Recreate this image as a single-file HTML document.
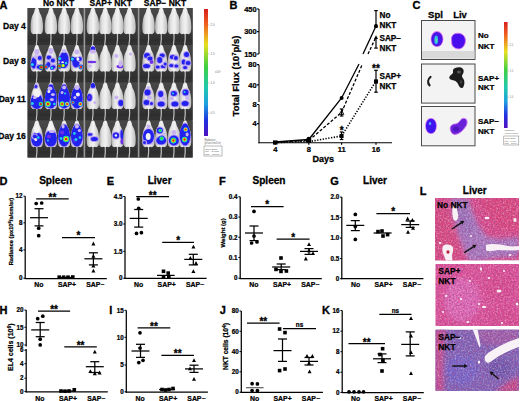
<!DOCTYPE html>
<html><head><meta charset="utf-8"><style>
html,body{margin:0;padding:0;background:#fff;overflow:hidden;width:520px;height:401px;}
svg{display:block;font-family:"Liberation Sans", sans-serif;}
</style></head><body>
<svg width="520" height="401" viewBox="0 0 520 401">
<rect width="520" height="401" fill="#fff"/>
<text x="-0.40" y="8.50" font-size="11" text-anchor="start" font-weight="bold" fill="#000" stroke="#000" stroke-width="0.32" >A</text>
<text x="229.40" y="9.00" font-size="11" text-anchor="start" font-weight="bold" fill="#000" stroke="#000" stroke-width="0.32" >B</text>
<text x="412.40" y="9.00" font-size="11" text-anchor="start" font-weight="bold" fill="#000" stroke="#000" stroke-width="0.32" >C</text>
<text x="-0.60" y="185.00" font-size="11" text-anchor="start" font-weight="bold" fill="#000" stroke="#000" stroke-width="0.32" >D</text>
<text x="106.70" y="185.00" font-size="11" text-anchor="start" font-weight="bold" fill="#000" stroke="#000" stroke-width="0.32" >E</text>
<text x="219.00" y="185.00" font-size="11" text-anchor="start" font-weight="bold" fill="#000" stroke="#000" stroke-width="0.32" >F</text>
<text x="330.20" y="185.00" font-size="11" text-anchor="start" font-weight="bold" fill="#000" stroke="#000" stroke-width="0.32" >G</text>
<text x="419.80" y="195.30" font-size="11" text-anchor="start" font-weight="bold" fill="#000" stroke="#000" stroke-width="0.32" >L</text>
<text x="-0.60" y="314.30" font-size="11" text-anchor="start" font-weight="bold" fill="#000" stroke="#000" stroke-width="0.32" >H</text>
<text x="109.30" y="314.30" font-size="11" text-anchor="start" font-weight="bold" fill="#000" stroke="#000" stroke-width="0.32" >I</text>
<text x="219.70" y="314.30" font-size="11" text-anchor="start" font-weight="bold" fill="#000" stroke="#000" stroke-width="0.32" >J</text>
<text x="322.00" y="314.30" font-size="11" text-anchor="start" font-weight="bold" fill="#000" stroke="#000" stroke-width="0.32" >K</text>
<defs><filter id="bl" x="-20%" y="-20%" width="140%" height="140%"><feGaussianBlur stdDeviation="0.5"/></filter><filter id="bl2" x="-20%" y="-20%" width="140%" height="140%"><feGaussianBlur stdDeviation="0.45"/></filter><filter id="soft" x="0" y="0" width="100%" height="100%"><feGaussianBlur stdDeviation="0.35"/></filter></defs>
<g id="panelA" filter="url(#soft)">
<defs><linearGradient id="rowbg" x1="0" y1="0" x2="0" y2="1"><stop offset="0" stop-color="#474747"/><stop offset="0.6" stop-color="#3c3c3c"/><stop offset="0.85" stop-color="#2e2e2e"/><stop offset="1" stop-color="#333"/></linearGradient></defs>
<rect x="27.6" y="8" width="165" height="149.5" fill="#3a3a3a"/>
<rect x="27.6" y="8" width="165" height="37.5" fill="url(#rowbg)"/>
<rect x="27.6" y="45" width="165" height="37.5" fill="url(#rowbg)"/>
<rect x="27.6" y="82.5" width="165" height="37.5" fill="url(#rowbg)"/>
<rect x="27.6" y="120.5" width="165" height="37.0" fill="url(#rowbg)"/>
<defs><path id="mp" d="M0.00,0.00 C0.43,0.00 0.93,-0.02 1.30,0.40 C1.67,0.82 1.95,1.73 2.20,2.50 C2.45,3.27 2.53,4.25 2.80,5.00 C3.07,5.75 3.47,6.30 3.80,7.00 C4.13,7.70 4.52,8.37 4.80,9.20 C5.08,10.03 5.30,10.95 5.50,12.00 C5.70,13.05 5.88,14.25 6.00,15.50 C6.12,16.75 6.20,18.25 6.20,19.50 C6.20,20.75 6.13,22.03 6.00,23.00 C5.87,23.97 5.77,24.70 5.40,25.30 C5.03,25.90 4.45,26.43 3.80,26.60 C3.15,26.77 2.13,26.27 1.50,26.30 C0.87,26.33 0.50,26.80 0.00,26.80 C-0.50,26.80 -0.87,26.33 -1.50,26.30 C-2.13,26.27 -3.15,26.77 -3.80,26.60 C-4.45,26.43 -5.03,25.90 -5.40,25.30 C-5.77,24.70 -5.87,23.97 -6.00,23.00 C-6.13,22.03 -6.20,20.75 -6.20,19.50 C-6.20,18.25 -6.12,16.75 -6.00,15.50 C-5.88,14.25 -5.70,13.05 -5.50,12.00 C-5.30,10.95 -5.08,10.03 -4.80,9.20 C-4.52,8.37 -4.13,7.70 -3.80,7.00 C-3.47,6.30 -3.07,5.75 -2.80,5.00 C-2.53,4.25 -2.45,3.27 -2.20,2.50 C-1.95,1.73 -1.67,0.82 -1.30,0.40 C-0.93,-0.02 -0.43,0.00 0.00,0.00 Z"/><clipPath id="mc"><use href="#mp"/></clipPath><linearGradient id="msh" x1="0" y1="0" x2="1" y2="0"><stop offset="0" stop-color="#a8a8a8"/><stop offset="0.25" stop-color="#e2e2e2"/><stop offset="0.55" stop-color="#f2f2f2"/><stop offset="1" stop-color="#bcbcbc"/></linearGradient></defs>
<g transform="translate(36.8,7.5)">
<path d="M0,25 Q0.5,31 -0.5,37.5" stroke="#c0c0c0" stroke-width="1.2" fill="none"/>
<use href="#mp" fill="url(#msh)"/>
</g>
<g transform="translate(50.9,7.5)">
<path d="M0,25 Q0.5,31 -0.5,37.5" stroke="#c0c0c0" stroke-width="1.2" fill="none"/>
<use href="#mp" fill="url(#msh)"/>
</g>
<g transform="translate(64.1,7.5)">
<path d="M0,25 Q0.5,31 -0.5,37.5" stroke="#c0c0c0" stroke-width="1.2" fill="none"/>
<use href="#mp" fill="url(#msh)"/>
</g>
<g transform="translate(76.9,7.5)">
<path d="M0,25 Q0.5,31 -0.5,37.5" stroke="#c0c0c0" stroke-width="1.2" fill="none"/>
<use href="#mp" fill="url(#msh)"/>
</g>
<g transform="translate(36.8,45)">
<path d="M0,25 Q0.5,31 -0.5,37.5" stroke="#c0c0c0" stroke-width="1.2" fill="none"/>
<use href="#mp" fill="url(#msh)"/>
<g clip-path="url(#mc)"><g filter="url(#bl)">
<ellipse cx="-3" cy="18" rx="3.6" ry="6.6" fill="#b8a0f0"/>
<ellipse cx="-3" cy="18" rx="2.5" ry="5.5" fill="#2420ee"/>
<ellipse cx="3" cy="13" rx="3.1" ry="3.1" fill="#b8a0f0"/>
<ellipse cx="3" cy="13" rx="2" ry="2" fill="#2420ee"/>
<ellipse cx="2" cy="22" rx="3.3000000000000003" ry="2.9000000000000004" fill="#b8a0f0"/>
<ellipse cx="2" cy="22" rx="2.2" ry="1.8" fill="#2420ee"/>
<ellipse cx="0" cy="7" rx="2.5" ry="3" fill="#c8b4f0"/>
<ellipse cx="-1" cy="12" rx="2" ry="2" fill="#c8b4f0"/>
<ellipse cx="-4.5" cy="19.5" rx="2.43" ry="2.43" fill="#2420ee"/>
<ellipse cx="-4.5" cy="19.5" rx="1.5485911621929036" ry="1.5485911621929036" fill="#20d0e8"/>
<ellipse cx="4.6" cy="22.3" rx="2.7" ry="2.7" fill="#2420ee"/>
<ellipse cx="4.6" cy="22.3" rx="2.0744570415933907" ry="2.0744570415933907" fill="#30e040"/>
<ellipse cx="4.6" cy="22.3" rx="1.3220106341400664" ry="1.3220106341400664" fill="#e82020"/>
</g></g>
</g>
<g transform="translate(50.9,45)">
<path d="M0,25 Q0.5,31 -0.5,37.5" stroke="#c0c0c0" stroke-width="1.2" fill="none"/>
<use href="#mp" fill="url(#msh)"/>
<g clip-path="url(#mc)"><g filter="url(#bl)">
<ellipse cx="-2" cy="12.5" rx="3.3000000000000003" ry="3.1" fill="#b8a0f0"/>
<ellipse cx="-2" cy="12.5" rx="2.2" ry="2" fill="#2420ee"/>
<ellipse cx="2" cy="15.5" rx="3.1" ry="3.1" fill="#b8a0f0"/>
<ellipse cx="2" cy="15.5" rx="2" ry="2" fill="#2420ee"/>
<ellipse cx="-2.5" cy="19.5" rx="3.1" ry="3.6" fill="#b8a0f0"/>
<ellipse cx="-2.5" cy="19.5" rx="2" ry="2.5" fill="#2420ee"/>
<ellipse cx="2.5" cy="22" rx="3.3000000000000003" ry="2.9000000000000004" fill="#b8a0f0"/>
<ellipse cx="2.5" cy="22" rx="2.2" ry="1.8" fill="#2420ee"/>
<ellipse cx="0" cy="6" rx="2.5" ry="3" fill="#c8b4f0"/>
<ellipse cx="-4.8" cy="22" rx="2.43" ry="2.43" fill="#2420ee"/>
<ellipse cx="-4.8" cy="22" rx="1.8670113374340518" ry="1.8670113374340518" fill="#20d0e8"/>
<ellipse cx="-4.8" cy="22" rx="1.1898095707260599" ry="1.1898095707260599" fill="#e82020"/>
<ellipse cx="1" cy="23" rx="2.0250000000000004" ry="2.0250000000000004" fill="#2420ee"/>
<ellipse cx="1" cy="23" rx="1.2904926351607533" ry="1.2904926351607533" fill="#20d0e8"/>
</g></g>
</g>
<g transform="translate(64.1,45)">
<path d="M0,25 Q0.5,31 -0.5,37.5" stroke="#c0c0c0" stroke-width="1.2" fill="none"/>
<use href="#mp" fill="url(#msh)"/>
<g clip-path="url(#mc)"><g filter="url(#bl)">
<ellipse cx="0" cy="15" rx="5.6" ry="9.1" fill="#b8a0f0"/>
<ellipse cx="0" cy="15" rx="4.5" ry="8" fill="#2420ee"/>
<ellipse cx="0" cy="6" rx="2" ry="2" fill="#c8b4f0"/>
<ellipse cx="-1.5" cy="17.5" rx="1.3" ry="1.3" fill="#f2f2f2"/>
<ellipse cx="-4.4" cy="13.6" rx="2.43" ry="2.43" fill="#2420ee"/>
<ellipse cx="-4.4" cy="13.6" rx="1.5485911621929036" ry="1.5485911621929036" fill="#20d0e8"/>
<ellipse cx="-4.5" cy="21" rx="2.7" ry="2.7" fill="#2420ee"/>
<ellipse cx="-4.5" cy="21" rx="2.0744570415933907" ry="2.0744570415933907" fill="#30e040"/>
<ellipse cx="-4.5" cy="21" rx="1.3220106341400664" ry="1.3220106341400664" fill="#e82020"/>
<ellipse cx="-1" cy="20.5" rx="2.43" ry="2.43" fill="#2420ee"/>
<ellipse cx="-1" cy="20.5" rx="1.8670113374340518" ry="1.8670113374340518" fill="#30e040"/>
<ellipse cx="-1" cy="20.5" rx="1.1898095707260599" ry="1.1898095707260599" fill="#f0f020"/>
<ellipse cx="2" cy="18" rx="2.0250000000000004" ry="2.0250000000000004" fill="#2420ee"/>
<ellipse cx="2" cy="18" rx="1.2904926351607533" ry="1.2904926351607533" fill="#20d0e8"/>
</g></g>
</g>
<g transform="translate(76.9,45)">
<path d="M0,25 Q0.5,31 -0.5,37.5" stroke="#c0c0c0" stroke-width="1.2" fill="none"/>
<use href="#mp" fill="url(#msh)"/>
<g clip-path="url(#mc)"><g filter="url(#bl)">
<ellipse cx="-1" cy="17.5" rx="4.6" ry="6.1" fill="#b8a0f0"/>
<ellipse cx="-1" cy="17.5" rx="3.5" ry="5" fill="#2420ee"/>
<ellipse cx="3" cy="14" rx="3.1" ry="3.1" fill="#b8a0f0"/>
<ellipse cx="3" cy="14" rx="2" ry="2" fill="#2420ee"/>
<ellipse cx="0" cy="7" rx="2.5" ry="2.5" fill="#c8b4f0"/>
<ellipse cx="1" cy="14" rx="1.5" ry="1.5" fill="#f2f2f2"/>
<ellipse cx="-4.5" cy="14" rx="2.43" ry="2.43" fill="#2420ee"/>
<ellipse cx="-4.5" cy="14" rx="1.5485911621929036" ry="1.5485911621929036" fill="#20d0e8"/>
<ellipse cx="4" cy="22" rx="2.43" ry="2.43" fill="#2420ee"/>
<ellipse cx="4" cy="22" rx="1.8670113374340518" ry="1.8670113374340518" fill="#20d0e8"/>
<ellipse cx="4" cy="22" rx="1.1898095707260599" ry="1.1898095707260599" fill="#e82020"/>
</g></g>
</g>
<g transform="translate(36.8,82.5)">
<path d="M0,25 Q0.5,31 -0.5,37.5" stroke="#c0c0c0" stroke-width="1.2" fill="none"/>
<use href="#mp" fill="url(#msh)"/>
<g clip-path="url(#mc)"><g filter="url(#bl)">
<ellipse cx="0" cy="19" rx="7.1" ry="8.6" fill="#b8a0f0"/>
<ellipse cx="0" cy="19" rx="6" ry="7.5" fill="#2420ee"/>
<ellipse cx="0" cy="3" rx="2" ry="2.5" fill="#c8b4f0"/>
<ellipse cx="-1" cy="4" rx="2.6" ry="2.6" fill="#b8a0f0"/>
<ellipse cx="-1" cy="4" rx="1.5" ry="1.5" fill="#2420ee"/>
<ellipse cx="0" cy="11" rx="3.5" ry="4" fill="#f2f2f2"/>
<ellipse cx="-2" cy="15" rx="2" ry="1.5" fill="#c8b4f0"/>
<ellipse cx="-4.5" cy="21" rx="2.43" ry="2.43" fill="#2420ee"/>
<ellipse cx="-4.5" cy="21" rx="1.5485911621929036" ry="1.5485911621929036" fill="#20d0e8"/>
<ellipse cx="4" cy="21.5" rx="2.7" ry="2.7" fill="#2420ee"/>
<ellipse cx="4" cy="21.5" rx="2.239512987461187" ry="2.239512987461187" fill="#20d0e8"/>
<ellipse cx="4" cy="21.5" rx="1.7206568468810042" ry="1.7206568468810042" fill="#30e040"/>
<ellipse cx="4" cy="21.5" rx="1.096540735080918" ry="1.096540735080918" fill="#e82020"/>
</g></g>
</g>
<g transform="translate(50.9,82.5)">
<path d="M0,25 Q0.5,31 -0.5,37.5" stroke="#c0c0c0" stroke-width="1.2" fill="none"/>
<use href="#mp" fill="url(#msh)"/>
<g clip-path="url(#mc)"><g filter="url(#bl)">
<ellipse cx="0" cy="14" rx="7.1" ry="13.1" fill="#b8a0f0"/>
<ellipse cx="0" cy="14" rx="6" ry="12" fill="#2420ee"/>
<ellipse cx="-1" cy="6" rx="2.5" ry="2" fill="#c8b4f0"/>
<ellipse cx="2" cy="12" rx="2" ry="1.5" fill="#c8b4f0"/>
<ellipse cx="-2" cy="9" rx="1.5" ry="1.5" fill="#f2f2f2"/>
<ellipse cx="1" cy="17" rx="2" ry="1.5" fill="#c8b4f0"/>
<ellipse cx="-3" cy="21.5" rx="3.375" ry="3.375" fill="#2420ee"/>
<ellipse cx="-3" cy="21.5" rx="2.9193238054014556" ry="2.9193238054014556" fill="#20d0e8"/>
<ellipse cx="-3" cy="21.5" rx="2.4214309543708055" ry="2.4214309543708055" fill="#30e040"/>
<ellipse cx="-3" cy="21.5" rx="1.8604275903802676" ry="1.8604275903802676" fill="#f0f020"/>
<ellipse cx="-3" cy="21.5" rx="1.1856138783385683" ry="1.1856138783385683" fill="#e82020"/>
<ellipse cx="3.5" cy="21.5" rx="2.0250000000000004" ry="2.0250000000000004" fill="#2420ee"/>
<ellipse cx="3.5" cy="21.5" rx="1.2904926351607533" ry="1.2904926351607533" fill="#20d0e8"/>
</g></g>
</g>
<g transform="translate(64.1,82.5)">
<path d="M0,25 Q0.5,31 -0.5,37.5" stroke="#c0c0c0" stroke-width="1.2" fill="none"/>
<use href="#mp" fill="url(#msh)"/>
<g clip-path="url(#mc)"><g filter="url(#bl)">
<ellipse cx="0" cy="14" rx="7.1" ry="13.1" fill="#b8a0f0"/>
<ellipse cx="0" cy="14" rx="6" ry="12" fill="#2420ee"/>
<ellipse cx="0" cy="5" rx="2" ry="2" fill="#c8b4f0"/>
<ellipse cx="-2" cy="10" rx="1.5" ry="1.5" fill="#c8b4f0"/>
<ellipse cx="-2" cy="21.5" rx="3.105" ry="3.105" fill="#2420ee"/>
<ellipse cx="-2" cy="21.5" rx="2.6857779009693394" ry="2.6857779009693394" fill="#20d0e8"/>
<ellipse cx="-2" cy="21.5" rx="2.227716478021141" ry="2.227716478021141" fill="#30e040"/>
<ellipse cx="-2" cy="21.5" rx="1.7115933831498462" ry="1.7115933831498462" fill="#f0f020"/>
<ellipse cx="-2" cy="21.5" rx="1.090764768071483" ry="1.090764768071483" fill="#e82020"/>
<ellipse cx="3" cy="21.5" rx="2.7" ry="2.7" fill="#2420ee"/>
<ellipse cx="3" cy="21.5" rx="2.239512987461187" ry="2.239512987461187" fill="#20d0e8"/>
<ellipse cx="3" cy="21.5" rx="1.7206568468810042" ry="1.7206568468810042" fill="#f0f020"/>
<ellipse cx="3" cy="21.5" rx="1.096540735080918" ry="1.096540735080918" fill="#e82020"/>
<ellipse cx="1" cy="11" rx="1.7550000000000001" ry="1.7550000000000001" fill="#2420ee"/>
<ellipse cx="1" cy="11" rx="1.1184269504726527" ry="1.1184269504726527" fill="#20d0e8"/>
</g></g>
</g>
<g transform="translate(76.9,82.5)">
<path d="M0,25 Q0.5,31 -0.5,37.5" stroke="#c0c0c0" stroke-width="1.2" fill="none"/>
<use href="#mp" fill="url(#msh)"/>
<g clip-path="url(#mc)"><g filter="url(#bl)">
<ellipse cx="0" cy="15" rx="7.1" ry="12.1" fill="#b8a0f0"/>
<ellipse cx="0" cy="15" rx="6" ry="11" fill="#2420ee"/>
<ellipse cx="0" cy="5" rx="2.5" ry="2.5" fill="#c8b4f0"/>
<ellipse cx="1" cy="12" rx="2" ry="2" fill="#f2f2f2"/>
<ellipse cx="-2" cy="15" rx="1.5" ry="1.5" fill="#c8b4f0"/>
<ellipse cx="-4" cy="20" rx="2.16" ry="2.16" fill="#2420ee"/>
<ellipse cx="-4" cy="20" rx="1.6595656332747126" ry="1.6595656332747126" fill="#20d0e8"/>
<ellipse cx="-4" cy="20" rx="1.0576085073120531" ry="1.0576085073120531" fill="#e82020"/>
<ellipse cx="3.5" cy="21.5" rx="2.7" ry="2.7" fill="#2420ee"/>
<ellipse cx="3.5" cy="21.5" rx="2.239512987461187" ry="2.239512987461187" fill="#20d0e8"/>
<ellipse cx="3.5" cy="21.5" rx="1.7206568468810042" ry="1.7206568468810042" fill="#f0f020"/>
<ellipse cx="3.5" cy="21.5" rx="1.096540735080918" ry="1.096540735080918" fill="#e82020"/>
</g></g>
</g>
<g transform="translate(36.8,120.5)">
<path d="M0,25 Q0.5,31 -0.5,37.5" stroke="#c0c0c0" stroke-width="1.2" fill="none"/>
<use href="#mp" fill="url(#msh)"/>
<g clip-path="url(#mc)"><g filter="url(#bl)">
<ellipse cx="0" cy="19" rx="6.6" ry="8.1" fill="#b8a0f0"/>
<ellipse cx="0" cy="19" rx="5.5" ry="7" fill="#2420ee"/>
<ellipse cx="0" cy="8" rx="3" ry="5" fill="#f2f2f2"/>
<ellipse cx="-2" cy="16" rx="3.1" ry="3.1" fill="#b8a0f0"/>
<ellipse cx="-2" cy="16" rx="2" ry="2" fill="#2420ee"/>
<ellipse cx="-1" cy="19" rx="1.5" ry="1.5" fill="#f2f2f2"/>
<ellipse cx="1.5" cy="17" rx="2.0250000000000004" ry="2.0250000000000004" fill="#2420ee"/>
<ellipse cx="1.5" cy="17" rx="1.2904926351607533" ry="1.2904926351607533" fill="#20d0e8"/>
</g></g>
</g>
<g transform="translate(50.9,120.5)">
<path d="M0,25 Q0.5,31 -0.5,37.5" stroke="#c0c0c0" stroke-width="1.2" fill="none"/>
<use href="#mp" fill="url(#msh)"/>
<g clip-path="url(#mc)"><g filter="url(#bl)">
<ellipse cx="0" cy="18" rx="7.1" ry="9.1" fill="#b8a0f0"/>
<ellipse cx="0" cy="18" rx="6" ry="8" fill="#2420ee"/>
<ellipse cx="0" cy="7" rx="3" ry="4.5" fill="#f2f2f2"/>
<ellipse cx="1" cy="11" rx="3" ry="1.5" fill="#c8b4f0"/>
<ellipse cx="-2" cy="16" rx="2" ry="2" fill="#7030e8"/>
<ellipse cx="-3" cy="20" rx="1.62" ry="1.62" fill="#2420ee"/>
<ellipse cx="-3" cy="20" rx="1.0323941081286026" ry="1.0323941081286026" fill="#20d0e8"/>
</g></g>
</g>
<g transform="translate(64.1,120.5)">
<path d="M0,25 Q0.5,31 -0.5,37.5" stroke="#c0c0c0" stroke-width="1.2" fill="none"/>
<use href="#mp" fill="url(#msh)"/>
<g clip-path="url(#mc)"><g filter="url(#bl)">
<ellipse cx="0" cy="15" rx="7.1" ry="12.1" fill="#b8a0f0"/>
<ellipse cx="0" cy="15" rx="6" ry="11" fill="#2420ee"/>
<ellipse cx="-1" cy="6" rx="1.5" ry="2" fill="#c8b4f0"/>
<ellipse cx="-2" cy="12" rx="2" ry="2" fill="#7030e8"/>
<ellipse cx="-3" cy="18" rx="2.16" ry="2.16" fill="#2420ee"/>
<ellipse cx="-3" cy="18" rx="1.3765254775048033" ry="1.3765254775048033" fill="#20d0e8"/>
<ellipse cx="2" cy="18.5" rx="3.78" ry="3.78" fill="#2420ee"/>
<ellipse cx="2" cy="18.5" rx="3.2696426620496304" ry="3.2696426620496304" fill="#20d0e8"/>
<ellipse cx="2" cy="18.5" rx="2.712002668895302" ry="2.712002668895302" fill="#30e040"/>
<ellipse cx="2" cy="18.5" rx="2.0836789012258996" ry="2.0836789012258996" fill="#f0f020"/>
<ellipse cx="2" cy="18.5" rx="1.3278875437391966" ry="1.3278875437391966" fill="#e82020"/>
</g></g>
</g>
<g transform="translate(76.9,120.5)">
<path d="M0,25 Q0.5,31 -0.5,37.5" stroke="#c0c0c0" stroke-width="1.2" fill="none"/>
<use href="#mp" fill="url(#msh)"/>
<g clip-path="url(#mc)"><g filter="url(#bl)">
<ellipse cx="0" cy="15" rx="7.1" ry="12.1" fill="#b8a0f0"/>
<ellipse cx="0" cy="15" rx="6" ry="11" fill="#2420ee"/>
<ellipse cx="0" cy="6" rx="2" ry="2" fill="#c8b4f0"/>
<ellipse cx="2.5" cy="10" rx="1.5" ry="1.5" fill="#c8b4f0"/>
<ellipse cx="-2" cy="20" rx="2" ry="2" fill="#7030e8"/>
<ellipse cx="-2.5" cy="13" rx="2.16" ry="2.16" fill="#2420ee"/>
<ellipse cx="-2.5" cy="13" rx="1.3765254775048033" ry="1.3765254775048033" fill="#20d0e8"/>
<ellipse cx="-1" cy="19" rx="2.43" ry="2.43" fill="#2420ee"/>
<ellipse cx="-1" cy="19" rx="1.5485911621929036" ry="1.5485911621929036" fill="#20d0e8"/>
<ellipse cx="3" cy="17" rx="1.89" ry="1.89" fill="#2420ee"/>
<ellipse cx="3" cy="17" rx="1.2044597928167027" ry="1.2044597928167027" fill="#20d0e8"/>
</g></g>
</g>
<g transform="translate(92.9,7.5)">
<path d="M0,25 Q0.5,31 -0.5,37.5" stroke="#c0c0c0" stroke-width="1.2" fill="none"/>
<use href="#mp" fill="url(#msh)"/>
</g>
<g transform="translate(105.2,7.5)">
<path d="M0,25 Q0.5,31 -0.5,37.5" stroke="#c0c0c0" stroke-width="1.2" fill="none"/>
<use href="#mp" fill="url(#msh)"/>
</g>
<g transform="translate(117.4,7.5)">
<path d="M0,25 Q0.5,31 -0.5,37.5" stroke="#c0c0c0" stroke-width="1.2" fill="none"/>
<use href="#mp" fill="url(#msh)"/>
</g>
<g transform="translate(129.5,7.5)">
<path d="M0,25 Q0.5,31 -0.5,37.5" stroke="#c0c0c0" stroke-width="1.2" fill="none"/>
<use href="#mp" fill="url(#msh)"/>
</g>
<g transform="translate(92.9,45)">
<path d="M0,25 Q0.5,31 -0.5,37.5" stroke="#c0c0c0" stroke-width="1.2" fill="none"/>
<use href="#mp" fill="url(#msh)"/>
<g clip-path="url(#mc)"><g filter="url(#bl)">
<ellipse cx="0" cy="4" rx="3.6" ry="3.6" fill="#b8a0f0"/>
<ellipse cx="0" cy="4" rx="2.5" ry="2.5" fill="#2420ee"/>
<ellipse cx="0" cy="6.5" rx="3" ry="2" fill="#c8b4f0"/>
<ellipse cx="-1" cy="17" rx="4.5" ry="1.2" fill="#7030e8"/>
<ellipse cx="-3" cy="21" rx="2" ry="1.5" fill="#c8b4f0"/>
</g></g>
</g>
<g transform="translate(105.2,45)">
<path d="M0,25 Q0.5,31 -0.5,37.5" stroke="#c0c0c0" stroke-width="1.2" fill="none"/>
<use href="#mp" fill="url(#msh)"/>
</g>
<g transform="translate(117.4,45)">
<path d="M0,25 Q0.5,31 -0.5,37.5" stroke="#c0c0c0" stroke-width="1.2" fill="none"/>
<use href="#mp" fill="url(#msh)"/>
<g clip-path="url(#mc)"><g filter="url(#bl)">
<ellipse cx="2.5" cy="21.5" rx="3.5" ry="1.8" fill="#7030e8"/>
<ellipse cx="3" cy="19" rx="2" ry="3" fill="#c8b4f0"/>
<ellipse cx="-1" cy="11" rx="2" ry="2" fill="#c8b4f0"/>
</g></g>
</g>
<g transform="translate(129.5,45)">
<path d="M0,25 Q0.5,31 -0.5,37.5" stroke="#c0c0c0" stroke-width="1.2" fill="none"/>
<use href="#mp" fill="url(#msh)"/>
<g clip-path="url(#mc)"><g filter="url(#bl)">
<ellipse cx="1" cy="9" rx="1.5" ry="1.5" fill="#c8b4f0"/>
</g></g>
</g>
<g transform="translate(92.9,82.5)">
<path d="M0,25 Q0.5,31 -0.5,37.5" stroke="#c0c0c0" stroke-width="1.2" fill="none"/>
<use href="#mp" fill="url(#msh)"/>
<g clip-path="url(#mc)"><g filter="url(#bl)">
<ellipse cx="0" cy="3" rx="3.6" ry="3.6" fill="#b8a0f0"/>
<ellipse cx="0" cy="3" rx="2.5" ry="2.5" fill="#2420ee"/>
<ellipse cx="-3.5" cy="15" rx="3.6" ry="4.6" fill="#b8a0f0"/>
<ellipse cx="-3.5" cy="15" rx="2.5" ry="3.5" fill="#2420ee"/>
<ellipse cx="-3.5" cy="15" rx="1.2" ry="1.5" fill="#7030e8"/>
<ellipse cx="2" cy="20" rx="1.5" ry="1.5" fill="#c8b4f0"/>
</g></g>
</g>
<g transform="translate(105.2,82.5)">
<path d="M0,25 Q0.5,31 -0.5,37.5" stroke="#c0c0c0" stroke-width="1.2" fill="none"/>
<use href="#mp" fill="url(#msh)"/>
</g>
<g transform="translate(117.4,82.5)">
<path d="M0,25 Q0.5,31 -0.5,37.5" stroke="#c0c0c0" stroke-width="1.2" fill="none"/>
<use href="#mp" fill="url(#msh)"/>
<g clip-path="url(#mc)"><g filter="url(#bl)">
<ellipse cx="3.5" cy="20.5" rx="3.6" ry="4.1" fill="#b8a0f0"/>
<ellipse cx="3.5" cy="20.5" rx="2.5" ry="3" fill="#2420ee"/>
<ellipse cx="-1" cy="15" rx="2" ry="2" fill="#c8b4f0"/>
</g></g>
</g>
<g transform="translate(129.5,82.5)">
<path d="M0,25 Q0.5,31 -0.5,37.5" stroke="#c0c0c0" stroke-width="1.2" fill="none"/>
<use href="#mp" fill="url(#msh)"/>
</g>
<g transform="translate(92.9,120.5)">
<path d="M0,25 Q0.5,31 -0.5,37.5" stroke="#c0c0c0" stroke-width="1.2" fill="none"/>
<use href="#mp" fill="url(#msh)"/>
<g clip-path="url(#mc)"><g filter="url(#bl)">
<ellipse cx="-3" cy="14" rx="3.6" ry="2.3" fill="#b8a0f0"/>
<ellipse cx="-3" cy="14" rx="2.5" ry="1.2" fill="#2420ee"/>
<ellipse cx="1.5" cy="18.5" rx="4.6" ry="3.1" fill="#b8a0f0"/>
<ellipse cx="1.5" cy="18.5" rx="3.5" ry="2" fill="#2420ee"/>
</g></g>
</g>
<g transform="translate(105.2,120.5)">
<path d="M0,25 Q0.5,31 -0.5,37.5" stroke="#c0c0c0" stroke-width="1.2" fill="none"/>
<use href="#mp" fill="url(#msh)"/>
</g>
<g transform="translate(117.4,120.5)">
<path d="M0,25 Q0.5,31 -0.5,37.5" stroke="#c0c0c0" stroke-width="1.2" fill="none"/>
<use href="#mp" fill="url(#msh)"/>
<g clip-path="url(#mc)"><g filter="url(#bl)">
<ellipse cx="-1.5" cy="15" rx="4.300000000000001" ry="4.1" fill="#b8a0f0"/>
<ellipse cx="-1.5" cy="15" rx="3.2" ry="3" fill="#2420ee"/>
<ellipse cx="-1.5" cy="15" rx="1.2" ry="1.2" fill="#f2f2f2"/>
<ellipse cx="5" cy="14" rx="3.1" ry="6.1" fill="#b8a0f0"/>
<ellipse cx="5" cy="14" rx="2" ry="5" fill="#2420ee"/>
<ellipse cx="5" cy="21" rx="2" ry="3" fill="#7030e8"/>
</g></g>
</g>
<g transform="translate(129.5,120.5)">
<path d="M0,25 Q0.5,31 -0.5,37.5" stroke="#c0c0c0" stroke-width="1.2" fill="none"/>
<use href="#mp" fill="url(#msh)"/>
</g>
<g transform="translate(148.5,7.5)">
<path d="M0,25 Q0.5,31 -0.5,37.5" stroke="#c0c0c0" stroke-width="1.2" fill="none"/>
<use href="#mp" fill="url(#msh)"/>
</g>
<g transform="translate(161.2,7.5)">
<path d="M0,25 Q0.5,31 -0.5,37.5" stroke="#c0c0c0" stroke-width="1.2" fill="none"/>
<use href="#mp" fill="url(#msh)"/>
</g>
<g transform="translate(173.9,7.5)">
<path d="M0,25 Q0.5,31 -0.5,37.5" stroke="#c0c0c0" stroke-width="1.2" fill="none"/>
<use href="#mp" fill="url(#msh)"/>
</g>
<g transform="translate(185.1,7.5)">
<path d="M0,25 Q0.5,31 -0.5,37.5" stroke="#c0c0c0" stroke-width="1.2" fill="none"/>
<use href="#mp" fill="url(#msh)"/>
</g>
<g transform="translate(148.5,45)">
<path d="M0,25 Q0.5,31 -0.5,37.5" stroke="#c0c0c0" stroke-width="1.2" fill="none"/>
<use href="#mp" fill="url(#msh)"/>
<g clip-path="url(#mc)"><g filter="url(#bl)">
<ellipse cx="-1.5" cy="10.5" rx="4.1" ry="3.6" fill="#b8a0f0"/>
<ellipse cx="-1.5" cy="10.5" rx="3" ry="2.5" fill="#2420ee"/>
<ellipse cx="1.5" cy="13.5" rx="3.6" ry="3.1" fill="#b8a0f0"/>
<ellipse cx="1.5" cy="13.5" rx="2.5" ry="2" fill="#2420ee"/>
<ellipse cx="-2" cy="21" rx="4.6" ry="3.1" fill="#b8a0f0"/>
<ellipse cx="-2" cy="21" rx="3.5" ry="2" fill="#2420ee"/>
<ellipse cx="3" cy="17" rx="2" ry="2" fill="#7030e8"/>
</g></g>
</g>
<g transform="translate(161.2,45)">
<path d="M0,25 Q0.5,31 -0.5,37.5" stroke="#c0c0c0" stroke-width="1.2" fill="none"/>
<use href="#mp" fill="url(#msh)"/>
<g clip-path="url(#mc)"><g filter="url(#bl)">
<ellipse cx="1" cy="10.5" rx="3.6" ry="3.1" fill="#b8a0f0"/>
<ellipse cx="1" cy="10.5" rx="2.5" ry="2" fill="#2420ee"/>
<ellipse cx="-1.5" cy="15" rx="3.6" ry="4.1" fill="#b8a0f0"/>
<ellipse cx="-1.5" cy="15" rx="2.5" ry="3" fill="#2420ee"/>
<ellipse cx="2" cy="21.5" rx="3.6" ry="2.6" fill="#b8a0f0"/>
<ellipse cx="2" cy="21.5" rx="2.5" ry="1.5" fill="#2420ee"/>
<ellipse cx="-3.5" cy="22" rx="3.1" ry="2.6" fill="#b8a0f0"/>
<ellipse cx="-3.5" cy="22" rx="2" ry="1.5" fill="#2420ee"/>
<ellipse cx="4" cy="19" rx="2.6" ry="2.6" fill="#b8a0f0"/>
<ellipse cx="4" cy="19" rx="1.5" ry="1.5" fill="#2420ee"/>
</g></g>
</g>
<g transform="translate(173.9,45)">
<path d="M0,25 Q0.5,31 -0.5,37.5" stroke="#c0c0c0" stroke-width="1.2" fill="none"/>
<use href="#mp" fill="url(#msh)"/>
<g clip-path="url(#mc)"><g filter="url(#bl)">
<ellipse cx="-1" cy="12" rx="4.1" ry="3.1" fill="#b8a0f0"/>
<ellipse cx="-1" cy="12" rx="3" ry="2" fill="#2420ee"/>
<ellipse cx="2" cy="13" rx="3.1" ry="3.1" fill="#b8a0f0"/>
<ellipse cx="2" cy="13" rx="2" ry="2" fill="#2420ee"/>
<ellipse cx="-2.5" cy="20.5" rx="3.3000000000000003" ry="2.6" fill="#b8a0f0"/>
<ellipse cx="-2.5" cy="20.5" rx="2.2" ry="1.5" fill="#2420ee"/>
<ellipse cx="2.5" cy="21" rx="3.1" ry="2.6" fill="#b8a0f0"/>
<ellipse cx="2.5" cy="21" rx="2" ry="1.5" fill="#2420ee"/>
</g></g>
</g>
<g transform="translate(185.1,45)">
<path d="M0,25 Q0.5,31 -0.5,37.5" stroke="#c0c0c0" stroke-width="1.2" fill="none"/>
<use href="#mp" fill="url(#msh)"/>
<g clip-path="url(#mc)"><g filter="url(#bl)">
<ellipse cx="1.5" cy="9.5" rx="3.6" ry="3.6" fill="#b8a0f0"/>
<ellipse cx="1.5" cy="9.5" rx="2.5" ry="2.5" fill="#2420ee"/>
<ellipse cx="-1.5" cy="17" rx="3.1" ry="3.6" fill="#b8a0f0"/>
<ellipse cx="-1.5" cy="17" rx="2" ry="2.5" fill="#2420ee"/>
<ellipse cx="3" cy="18" rx="3.6" ry="3.1" fill="#b8a0f0"/>
<ellipse cx="3" cy="18" rx="2.5" ry="2" fill="#2420ee"/>
<ellipse cx="0" cy="22.5" rx="3.1" ry="2.6" fill="#b8a0f0"/>
<ellipse cx="0" cy="22.5" rx="2" ry="1.5" fill="#2420ee"/>
</g></g>
</g>
<g transform="translate(148.5,82.5)">
<path d="M0,25 Q0.5,31 -0.5,37.5" stroke="#c0c0c0" stroke-width="1.2" fill="none"/>
<use href="#mp" fill="url(#msh)"/>
<g clip-path="url(#mc)"><g filter="url(#bl)">
<ellipse cx="-1" cy="10" rx="4.1" ry="4.1" fill="#b8a0f0"/>
<ellipse cx="-1" cy="10" rx="3" ry="3" fill="#2420ee"/>
<ellipse cx="-2" cy="20" rx="4.1" ry="3.6" fill="#b8a0f0"/>
<ellipse cx="-2" cy="20" rx="3" ry="2.5" fill="#2420ee"/>
<ellipse cx="3" cy="21" rx="2.6" ry="2.6" fill="#b8a0f0"/>
<ellipse cx="3" cy="21" rx="1.5" ry="1.5" fill="#2420ee"/>
<ellipse cx="1" cy="15" rx="2.5" ry="2" fill="#c8b4f0"/>
<ellipse cx="0" cy="5" rx="1.5" ry="1.5" fill="#c8b4f0"/>
</g></g>
</g>
<g transform="translate(161.2,82.5)">
<path d="M0,25 Q0.5,31 -0.5,37.5" stroke="#c0c0c0" stroke-width="1.2" fill="none"/>
<use href="#mp" fill="url(#msh)"/>
<g clip-path="url(#mc)"><g filter="url(#bl)">
<ellipse cx="-0.5" cy="11.5" rx="3.6" ry="4.1" fill="#b8a0f0"/>
<ellipse cx="-0.5" cy="11.5" rx="2.5" ry="3" fill="#2420ee"/>
<ellipse cx="0" cy="21.5" rx="4.6" ry="3.6" fill="#b8a0f0"/>
<ellipse cx="0" cy="21.5" rx="3.5" ry="2.5" fill="#2420ee"/>
<ellipse cx="2" cy="16" rx="2" ry="2" fill="#c8b4f0"/>
<ellipse cx="-2" cy="17" rx="1.5" ry="1.5" fill="#c8b4f0"/>
</g></g>
</g>
<g transform="translate(173.9,82.5)">
<path d="M0,25 Q0.5,31 -0.5,37.5" stroke="#c0c0c0" stroke-width="1.2" fill="none"/>
<use href="#mp" fill="url(#msh)"/>
<g clip-path="url(#mc)"><g filter="url(#bl)">
<ellipse cx="0" cy="11" rx="4.1" ry="3.6" fill="#b8a0f0"/>
<ellipse cx="0" cy="11" rx="3" ry="2.5" fill="#2420ee"/>
<ellipse cx="1" cy="21.5" rx="4.6" ry="3.6" fill="#b8a0f0"/>
<ellipse cx="1" cy="21.5" rx="3.5" ry="2.5" fill="#2420ee"/>
<ellipse cx="-2" cy="16" rx="2" ry="2" fill="#c8b4f0"/>
<ellipse cx="-1" cy="11" rx="1.62" ry="1.62" fill="#2420ee"/>
<ellipse cx="-1" cy="11" rx="1.0323941081286026" ry="1.0323941081286026" fill="#20d0e8"/>
</g></g>
</g>
<g transform="translate(185.1,82.5)">
<path d="M0,25 Q0.5,31 -0.5,37.5" stroke="#c0c0c0" stroke-width="1.2" fill="none"/>
<use href="#mp" fill="url(#msh)"/>
<g clip-path="url(#mc)"><g filter="url(#bl)">
<ellipse cx="0.5" cy="10" rx="4.1" ry="4.1" fill="#b8a0f0"/>
<ellipse cx="0.5" cy="10" rx="3" ry="3" fill="#2420ee"/>
<ellipse cx="0" cy="21" rx="4.6" ry="3.6" fill="#b8a0f0"/>
<ellipse cx="0" cy="21" rx="3.5" ry="2.5" fill="#2420ee"/>
<ellipse cx="2" cy="15.5" rx="2" ry="2" fill="#c8b4f0"/>
<ellipse cx="-0.5" cy="9.5" rx="1.62" ry="1.62" fill="#2420ee"/>
<ellipse cx="-0.5" cy="9.5" rx="1.0323941081286026" ry="1.0323941081286026" fill="#20d0e8"/>
</g></g>
</g>
<g transform="translate(148.5,120.5)">
<path d="M0,25 Q0.5,31 -0.5,37.5" stroke="#c0c0c0" stroke-width="1.2" fill="none"/>
<use href="#mp" fill="url(#msh)"/>
<g clip-path="url(#mc)"><g filter="url(#bl)">
<ellipse cx="0" cy="16" rx="6.6" ry="8.6" fill="#b8a0f0"/>
<ellipse cx="0" cy="16" rx="5.5" ry="7.5" fill="#2420ee"/>
<ellipse cx="-0.3" cy="16" rx="2.5" ry="3.5" fill="#f2f2f2"/>
<ellipse cx="0" cy="6" rx="2" ry="2" fill="#c8b4f0"/>
<ellipse cx="-4" cy="22" rx="2.6" ry="2.6" fill="#b8a0f0"/>
<ellipse cx="-4" cy="22" rx="1.5" ry="1.5" fill="#2420ee"/>
</g></g>
</g>
<g transform="translate(161.2,120.5)">
<path d="M0,25 Q0.5,31 -0.5,37.5" stroke="#c0c0c0" stroke-width="1.2" fill="none"/>
<use href="#mp" fill="url(#msh)"/>
<g clip-path="url(#mc)"><g filter="url(#bl)">
<ellipse cx="-1.5" cy="10" rx="4.1" ry="4.1" fill="#b8a0f0"/>
<ellipse cx="-1.5" cy="10" rx="3" ry="3" fill="#2420ee"/>
<ellipse cx="0" cy="20" rx="6.1" ry="5.1" fill="#b8a0f0"/>
<ellipse cx="0" cy="20" rx="5" ry="4" fill="#2420ee"/>
<ellipse cx="2" cy="14" rx="2" ry="2" fill="#c8b4f0"/>
<ellipse cx="-1" cy="10" rx="2.43" ry="2.43" fill="#2420ee"/>
<ellipse cx="-1" cy="10" rx="1.8670113374340518" ry="1.8670113374340518" fill="#20d0e8"/>
<ellipse cx="-1" cy="10" rx="1.1898095707260599" ry="1.1898095707260599" fill="#30e040"/>
<ellipse cx="0.5" cy="18" rx="2.9700000000000006" ry="2.9700000000000006" fill="#2420ee"/>
<ellipse cx="0.5" cy="18" rx="2.2819027457527303" ry="2.2819027457527303" fill="#20d0e8"/>
<ellipse cx="0.5" cy="18" rx="1.4542116975540733" ry="1.4542116975540733" fill="#30e040"/>
</g></g>
</g>
<g transform="translate(173.9,120.5)">
<path d="M0,25 Q0.5,31 -0.5,37.5" stroke="#c0c0c0" stroke-width="1.2" fill="none"/>
<use href="#mp" fill="url(#msh)"/>
<g clip-path="url(#mc)"><g filter="url(#bl)">
<ellipse cx="0" cy="20" rx="6.1" ry="6.1" fill="#b8a0f0"/>
<ellipse cx="0" cy="20" rx="5" ry="5" fill="#2420ee"/>
<ellipse cx="0" cy="12" rx="2.5" ry="2.5" fill="#c8b4f0"/>
<ellipse cx="-0.5" cy="20" rx="3.375" ry="3.375" fill="#2420ee"/>
<ellipse cx="-0.5" cy="20" rx="2.9193238054014556" ry="2.9193238054014556" fill="#20d0e8"/>
<ellipse cx="-0.5" cy="20" rx="2.4214309543708055" ry="2.4214309543708055" fill="#30e040"/>
<ellipse cx="-0.5" cy="20" rx="1.8604275903802676" ry="1.8604275903802676" fill="#f0f020"/>
<ellipse cx="-0.5" cy="20" rx="1.1856138783385683" ry="1.1856138783385683" fill="#e82020"/>
</g></g>
</g>
<g transform="translate(185.1,120.5)">
<path d="M0,25 Q0.5,31 -0.5,37.5" stroke="#c0c0c0" stroke-width="1.2" fill="none"/>
<use href="#mp" fill="url(#msh)"/>
<g clip-path="url(#mc)"><g filter="url(#bl)">
<ellipse cx="0" cy="14" rx="6.6" ry="12.1" fill="#b8a0f0"/>
<ellipse cx="0" cy="14" rx="5.5" ry="11" fill="#2420ee"/>
<ellipse cx="2" cy="14" rx="1.5" ry="2" fill="#c8b4f0"/>
<ellipse cx="0.5" cy="9" rx="2.7" ry="2.7" fill="#2420ee"/>
<ellipse cx="0.5" cy="9" rx="2.239512987461187" ry="2.239512987461187" fill="#20d0e8"/>
<ellipse cx="0.5" cy="9" rx="1.7206568468810042" ry="1.7206568468810042" fill="#f0f020"/>
<ellipse cx="0.5" cy="9" rx="1.096540735080918" ry="1.096540735080918" fill="#e82020"/>
<ellipse cx="-0.5" cy="19" rx="3.24" ry="3.24" fill="#2420ee"/>
<ellipse cx="-0.5" cy="19" rx="2.8025508531853975" ry="2.8025508531853975" fill="#20d0e8"/>
<ellipse cx="-0.5" cy="19" rx="2.324573716195973" ry="2.324573716195973" fill="#30e040"/>
<ellipse cx="-0.5" cy="19" rx="1.786010486765057" ry="1.786010486765057" fill="#f0f020"/>
<ellipse cx="-0.5" cy="19" rx="1.1381893232050257" ry="1.1381893232050257" fill="#e82020"/>
</g></g>
</g>
<rect x="83.6" y="8" width="1.6" height="149.5" fill="#9a9a9a"/>
<rect x="137.8" y="8" width="1.6" height="149.5" fill="#9a9a9a"/>
</g>
<defs><linearGradient id="cbar" x1="0" y1="0" x2="0" y2="1">
<stop offset="0" stop-color="#d81e1e"/><stop offset="0.12" stop-color="#f06020"/><stop offset="0.28" stop-color="#e8e020"/>
<stop offset="0.45" stop-color="#40d040"/><stop offset="0.62" stop-color="#20c8b0"/><stop offset="0.75" stop-color="#20a0e0"/><stop offset="0.88" stop-color="#2030e0"/><stop offset="1" stop-color="#5010c0"/>
</linearGradient></defs>
<rect x="204" y="9" width="4" height="127" fill="url(#cbar)"/>
<rect x="204" y="146" width="18" height="10" fill="#fff" stroke="#777" stroke-width="0.5"/>
<line x1="208.00" y1="25.00" x2="209.50" y2="25.00" stroke="#888" stroke-width="0.4" />
<text x="210.50" y="26.00" font-size="3" text-anchor="start" font-weight="normal" fill="#777" >2.0</text>
<line x1="208.00" y1="54.00" x2="209.50" y2="54.00" stroke="#888" stroke-width="0.4" />
<text x="210.50" y="55.00" font-size="3" text-anchor="start" font-weight="normal" fill="#777" >1.5</text>
<line x1="208.00" y1="83.00" x2="209.50" y2="83.00" stroke="#888" stroke-width="0.4" />
<text x="210.50" y="84.00" font-size="3" text-anchor="start" font-weight="normal" fill="#777" >1.0</text>
<line x1="208.00" y1="113.00" x2="209.50" y2="113.00" stroke="#888" stroke-width="0.4" />
<text x="210.50" y="114.00" font-size="3" text-anchor="start" font-weight="normal" fill="#777" >0.5</text>
<text x="215.00" y="73.00" font-size="3" text-anchor="start" font-weight="normal" fill="#777" >x10<tspan font-size="2" dy="-1">6</tspan></text>
<text x="204.50" y="140.50" font-size="2.6" text-anchor="start" font-weight="normal" fill="#666" >Radiance</text>
<text x="204.50" y="143.50" font-size="2.6" text-anchor="start" font-weight="normal" fill="#666" >(p/sec/cm2/sr)</text>
<text x="205.00" y="149.50" font-size="2.4" text-anchor="start" font-weight="normal" fill="#555" >Color Scale</text>
<text x="205.00" y="152.20" font-size="2.4" text-anchor="start" font-weight="normal" fill="#555" >Min = 3.00e5</text>
<text x="205.00" y="154.90" font-size="2.4" text-anchor="start" font-weight="normal" fill="#555" >Max = 2.00e6</text>
<rect x="504" y="22" width="3.6" height="106" fill="url(#cbar)"/>
<rect x="503.8" y="136" width="15" height="9" fill="#fff" stroke="#777" stroke-width="0.5"/>
<line x1="507.60" y1="45.00" x2="509.00" y2="45.00" stroke="#888" stroke-width="0.4" />
<text x="509.50" y="46.00" font-size="2.6" text-anchor="start" font-weight="normal" fill="#777" >2.0</text>
<line x1="507.60" y1="71.00" x2="509.00" y2="71.00" stroke="#888" stroke-width="0.4" />
<text x="509.50" y="72.00" font-size="2.6" text-anchor="start" font-weight="normal" fill="#777" >1.5</text>
<line x1="507.60" y1="97.00" x2="509.00" y2="97.00" stroke="#888" stroke-width="0.4" />
<text x="509.50" y="98.00" font-size="2.6" text-anchor="start" font-weight="normal" fill="#777" >1.0</text>
<text x="504.50" y="131.00" font-size="2.4" text-anchor="start" font-weight="normal" fill="#666" >Radiance</text>
<text x="504.50" y="133.80" font-size="2.2" text-anchor="start" font-weight="normal" fill="#666" >(p/sec/cm2/sr)</text>
<text x="504.60" y="139.00" font-size="2.2" text-anchor="start" font-weight="normal" fill="#555" >Color Scale</text>
<text x="504.60" y="141.50" font-size="2.2" text-anchor="start" font-weight="normal" fill="#555" >Min = 1.0e6</text>
<text x="504.60" y="144.00" font-size="2.2" text-anchor="start" font-weight="normal" fill="#555" >Max = 2.0e7</text>
<text x="58.50" y="5.70" font-size="8.5" text-anchor="middle" font-weight="bold" fill="#000" stroke="#000" stroke-width="0.26" >No NKT</text>
<text x="110.70" y="5.70" font-size="8.5" text-anchor="middle" font-weight="bold" fill="#000" stroke="#000" stroke-width="0.26" >SAP+ NKT</text>
<text x="165.00" y="5.70" font-size="8.5" text-anchor="middle" font-weight="bold" fill="#000" stroke="#000" stroke-width="0.26" >SAP− NKT</text>
<text x="25.90" y="29.40" font-size="8.6" text-anchor="end" font-weight="bold" fill="#000" stroke="#000" stroke-width="0.26" >Day 4</text>
<text x="25.90" y="63.60" font-size="8.6" text-anchor="end" font-weight="bold" fill="#000" stroke="#000" stroke-width="0.26" >Day 8</text>
<text x="25.90" y="101.80" font-size="8.6" text-anchor="end" font-weight="bold" fill="#000" stroke="#000" stroke-width="0.26" >Day 11</text>
<text x="25.90" y="139.10" font-size="8.6" text-anchor="end" font-weight="bold" fill="#000" stroke="#000" stroke-width="0.26" >Day 16</text>
<line x1="259.00" y1="9.00" x2="259.00" y2="54.00" stroke="#000" stroke-width="1.1" />
<line x1="259.00" y1="64.70" x2="259.00" y2="102.00" stroke="#000" stroke-width="1.1" />
<line x1="259.00" y1="104.50" x2="259.00" y2="143.20" stroke="#000" stroke-width="1.1" />
<line x1="258.50" y1="142.70" x2="392.00" y2="142.70" stroke="#000" stroke-width="1.1" />
<line x1="257.00" y1="9.00" x2="259.00" y2="9.00" stroke="#000" stroke-width="1.2" />
<text x="256.70" y="11.60" font-size="7.5" text-anchor="end" font-weight="bold" fill="#000" stroke="#000" stroke-width="0.24" >450</text>
<line x1="257.00" y1="31.60" x2="259.00" y2="31.60" stroke="#000" stroke-width="1.2" />
<text x="256.70" y="34.20" font-size="7.5" text-anchor="end" font-weight="bold" fill="#000" stroke="#000" stroke-width="0.24" >300</text>
<line x1="257.00" y1="54.00" x2="259.00" y2="54.00" stroke="#000" stroke-width="1.2" />
<text x="256.70" y="56.60" font-size="7.5" text-anchor="end" font-weight="bold" fill="#000" stroke="#000" stroke-width="0.24" >150</text>
<line x1="257.00" y1="64.70" x2="259.00" y2="64.70" stroke="#000" stroke-width="1.2" />
<text x="256.70" y="67.30" font-size="7.5" text-anchor="end" font-weight="bold" fill="#000" stroke="#000" stroke-width="0.24" >80</text>
<line x1="257.00" y1="84.90" x2="259.00" y2="84.90" stroke="#000" stroke-width="1.2" />
<text x="256.70" y="87.50" font-size="7.5" text-anchor="end" font-weight="bold" fill="#000" stroke="#000" stroke-width="0.24" >40</text>
<line x1="257.00" y1="104.50" x2="259.00" y2="104.50" stroke="#000" stroke-width="1.2" />
<text x="256.70" y="107.10" font-size="7.5" text-anchor="end" font-weight="bold" fill="#000" stroke="#000" stroke-width="0.24" >8</text>
<line x1="257.00" y1="123.60" x2="259.00" y2="123.60" stroke="#000" stroke-width="1.2" />
<text x="256.70" y="126.20" font-size="7.5" text-anchor="end" font-weight="bold" fill="#000" stroke="#000" stroke-width="0.24" >4</text>
<line x1="275.30" y1="142.70" x2="275.30" y2="144.70" stroke="#000" stroke-width="1.2" />
<text x="275.30" y="151.50" font-size="7.5" text-anchor="middle" font-weight="bold" fill="#000" stroke="#000" stroke-width="0.24" >4</text>
<line x1="308.80" y1="142.70" x2="308.80" y2="144.70" stroke="#000" stroke-width="1.2" />
<text x="308.80" y="151.50" font-size="7.5" text-anchor="middle" font-weight="bold" fill="#000" stroke="#000" stroke-width="0.24" >8</text>
<line x1="341.60" y1="142.70" x2="341.60" y2="144.70" stroke="#000" stroke-width="1.2" />
<text x="341.60" y="151.50" font-size="7.5" text-anchor="middle" font-weight="bold" fill="#000" stroke="#000" stroke-width="0.24" >11</text>
<line x1="376.00" y1="142.70" x2="376.00" y2="144.70" stroke="#000" stroke-width="1.2" />
<text x="376.00" y="151.50" font-size="7.5" text-anchor="middle" font-weight="bold" fill="#000" stroke="#000" stroke-width="0.24" >16</text>
<text x="323.20" y="161.60" font-size="9" text-anchor="middle" font-weight="bold" fill="#000" stroke="#000" stroke-width="0.27" >Days</text>
<text x="0.00" y="0.00" font-size="9.5" text-anchor="middle" font-weight="bold" fill="#000" stroke="#000" stroke-width="0.28" transform="translate(239,76) rotate(-90)">Total Flux (10<tspan font-size="6" dy="-3">7</tspan><tspan dy="3">p/s)</tspan></text>
<polyline points="275.3,142 308.8,139.5 341.6,98 359,64" fill="none" stroke="#000" stroke-width="1.3"/>
<polyline points="363,54 376,26" fill="none" stroke="#000" stroke-width="1.3"/>
<polyline points="275.3,142.3 308.8,140.5 341.6,112.4 362,65" fill="none" stroke="#000" stroke-width="1.3" stroke-dasharray="3,1.8"/>
<polyline points="368,54 376,37" fill="none" stroke="#000" stroke-width="1.3" stroke-dasharray="3,1.8"/>
<polyline points="275.3,142.6 308.8,141.6 341.6,136 376,81" fill="none" stroke="#000" stroke-width="1.6" stroke-dasharray="1.3,1.5"/>
<circle cx="341.6" cy="98" r="2" fill="#000"/>
<circle cx="376" cy="26" r="2" fill="#000"/>
<rect x="273.0" y="140.4" width="4.6" height="4.2" fill="#000"/>
<rect x="306.5" y="138.2" width="4.6" height="4.6" fill="#000"/>
<circle cx="308.8" cy="139" r="2.2" fill="#000"/>
<path d="M341.60,110.20 L343.80,114.38 L339.40,114.38 Z" fill="#fff"/>
<path d="M341.6,110.2 L343.8,114.4 L339.40000000000003,114.4 Z" fill="none" stroke="#000" stroke-width="0.9"/>
<line x1="341.60" y1="109.00" x2="341.60" y2="116.00" stroke="#000" stroke-width="1.2" />
<line x1="339.80" y1="109.00" x2="343.40" y2="109.00" stroke="#000" stroke-width="1.2" />
<line x1="339.80" y1="116.00" x2="343.40" y2="116.00" stroke="#000" stroke-width="1.2" />
<rect x="339.6" y="134" width="4" height="4" fill="#000"/>
<line x1="341.60" y1="132.00" x2="341.60" y2="139.50" stroke="#000" stroke-width="1.2" />
<line x1="339.80" y1="132.00" x2="343.40" y2="132.00" stroke="#000" stroke-width="1.2" />
<line x1="339.80" y1="139.50" x2="343.40" y2="139.50" stroke="#000" stroke-width="1.2" />
<text x="341.60" y="133.50" font-size="10" text-anchor="middle" font-weight="bold" fill="#000" stroke="#000" stroke-width="0.30" >*</text>
<line x1="376.00" y1="10.60" x2="376.00" y2="27.00" stroke="#000" stroke-width="1.2" />
<line x1="374.20" y1="10.60" x2="377.80" y2="10.60" stroke="#000" stroke-width="1.2" />
<line x1="374.20" y1="27.00" x2="377.80" y2="27.00" stroke="#000" stroke-width="1.2" />
<line x1="376.00" y1="37.00" x2="376.00" y2="48.10" stroke="#000" stroke-width="1.2" />
<line x1="374.20" y1="48.10" x2="377.80" y2="48.10" stroke="#000" stroke-width="1.2" />
<path d="M376.00,35.20 L378.00,39.00 L374.00,39.00 Z" fill="#000"/>
<rect x="374" y="79.4" width="4" height="4.2" fill="#000"/>
<line x1="376.00" y1="70.30" x2="376.00" y2="92.20" stroke="#000" stroke-width="1.2" />
<line x1="374.20" y1="70.30" x2="377.80" y2="70.30" stroke="#000" stroke-width="1.2" />
<line x1="374.20" y1="92.20" x2="377.80" y2="92.20" stroke="#000" stroke-width="1.2" />
<text x="376.00" y="71.50" font-size="10" text-anchor="middle" font-weight="bold" fill="#000" stroke="#000" stroke-width="0.30" >**</text>
<text x="379.50" y="18.00" font-size="8.2" text-anchor="start" font-weight="bold" fill="#000" stroke="#000" stroke-width="0.25" >No</text>
<text x="379.50" y="28.30" font-size="8.2" text-anchor="start" font-weight="bold" fill="#000" stroke="#000" stroke-width="0.25" >NKT</text>
<text x="379.50" y="40.80" font-size="8.2" text-anchor="start" font-weight="bold" fill="#000" stroke="#000" stroke-width="0.25" >SAP−</text>
<text x="379.50" y="50.70" font-size="8.2" text-anchor="start" font-weight="bold" fill="#000" stroke="#000" stroke-width="0.25" >NKT</text>
<text x="379.50" y="78.90" font-size="8.2" text-anchor="start" font-weight="bold" fill="#000" stroke="#000" stroke-width="0.25" >SAP+</text>
<text x="379.50" y="89.00" font-size="8.2" text-anchor="start" font-weight="bold" fill="#000" stroke="#000" stroke-width="0.25" >NKT</text>
<text x="435.50" y="18.00" font-size="9.5" text-anchor="middle" font-weight="bold" fill="#000" stroke="#000" stroke-width="0.28" >Spl</text>
<text x="460.00" y="18.00" font-size="9.5" text-anchor="middle" font-weight="bold" fill="#000" stroke="#000" stroke-width="0.28" >Liv</text>
<rect x="421.5" y="20.5" width="53.5" height="39" fill="#f3f3f3" stroke="#4a4a4a" stroke-width="1"/>
<rect x="421.5" y="64.0" width="53.5" height="39.099999999999994" fill="#f3f3f3" stroke="#4a4a4a" stroke-width="1"/>
<rect x="421.5" y="106.5" width="53.5" height="39.30000000000001" fill="#f3f3f3" stroke="#4a4a4a" stroke-width="1"/>
<rect x="422" y="51" width="52.5" height="7.5" fill="#d9d9d9"/>
<g filter="url(#bl2)">
<ellipse cx="437" cy="39.1" rx="6.4" ry="8" fill="#e070f0"/>
<ellipse cx="437" cy="39.1" rx="5.6" ry="7.2" fill="#4a12e6"/>
<ellipse cx="436.2" cy="39.9" rx="1.9" ry="4.4" fill="#30b8e8"/>
<ellipse cx="436.2" cy="40" rx="0.9" ry="2.6" fill="#50e0a0"/>
<path d="M451.5,40 C451,36 453.5,33.5 457,33.3 C461,33 464.5,35 465.3,39 C466,43 464,47.5 460,48.8 C456,49.5 452.5,47 451.8,44 Z" fill="#4a10ee" stroke="#e070f0" stroke-width="0.9"/>
<path d="M430.5,77 C428,79 427.3,82.5 429.5,85.3" fill="none" stroke="#1a1a1a" stroke-width="2.2" stroke-linecap="round"/>
<path d="M453,70 C454,67.5 458,66.8 461,67.5 C464,68.5 464.5,72 462.5,74.5 C461.5,76 462,77 463.5,79 C465,81.5 464.5,85 463,87.5 C461.5,89 459.5,87.5 458.5,85 C457.5,82.5 456,81 454,80.5 C451.5,80 449,79.5 449.3,77.3 C449.6,75.5 452,74.5 453,73 Z" fill="#1c1c1c"/>
<ellipse cx="459" cy="72" rx="2" ry="1.5" fill="#555"/><ellipse cx="461" cy="82" rx="1" ry="2" fill="#444"/>
<ellipse cx="431" cy="126" rx="5.8" ry="8" fill="#d070f0"/>
<ellipse cx="431" cy="126" rx="5.1" ry="7.3" fill="#4012f0"/>
<ellipse cx="430" cy="123.5" rx="1.3" ry="1.5" fill="#60a0ff"/>
<path d="M450.5,130 C449.5,126.5 452,124 455.5,124 C458,123.8 459.5,121.5 461,119.5 C462.8,117.8 466,118 466.8,120.5 C467.5,123 466.5,126 464.5,128 C462.5,130.5 460,133.5 456,134.3 C453,134.8 451,133 450.5,130 Z" fill="#6a22d8" stroke="#c060f0" stroke-width="0.9"/>
<ellipse cx="456" cy="129" rx="3" ry="2.5" fill="#5018c0"/>
</g>
<text x="478.00" y="38.20" font-size="8" text-anchor="start" font-weight="bold" fill="#000" stroke="#000" stroke-width="0.24" >No</text>
<text x="478.00" y="48.60" font-size="8" text-anchor="start" font-weight="bold" fill="#000" stroke="#000" stroke-width="0.24" >NKT</text>
<text x="478.00" y="80.50" font-size="8" text-anchor="start" font-weight="bold" fill="#000" stroke="#000" stroke-width="0.24" >SAP+</text>
<text x="478.00" y="90.40" font-size="8" text-anchor="start" font-weight="bold" fill="#000" stroke="#000" stroke-width="0.24" >NKT</text>
<text x="478.00" y="123.70" font-size="8" text-anchor="start" font-weight="bold" fill="#000" stroke="#000" stroke-width="0.24" >SAP−</text>
<text x="478.00" y="133.60" font-size="8" text-anchor="start" font-weight="bold" fill="#000" stroke="#000" stroke-width="0.24" >NKT</text>
<text x="55.70" y="184.20" font-size="10.1" text-anchor="middle" font-weight="bold" fill="#000" stroke="#000" stroke-width="0.30" >Spleen</text>
<line x1="25.20" y1="196.20" x2="25.20" y2="279.10" stroke="#000" stroke-width="1.25" />
<line x1="24.70" y1="278.60" x2="106.80" y2="278.60" stroke="#000" stroke-width="1.25" />
<line x1="23.40" y1="196.20" x2="25.20" y2="196.20" stroke="#000" stroke-width="1.0" />
<text x="22.60" y="198.40" font-size="6.3" text-anchor="end" font-weight="bold" fill="#000" stroke="#000" stroke-width="0.24" >12</text>
<line x1="23.40" y1="222.80" x2="25.20" y2="222.80" stroke="#000" stroke-width="1.0" />
<text x="22.60" y="225.00" font-size="6.3" text-anchor="end" font-weight="bold" fill="#000" stroke="#000" stroke-width="0.24" >8</text>
<line x1="23.40" y1="249.90" x2="25.20" y2="249.90" stroke="#000" stroke-width="1.0" />
<text x="22.60" y="252.10" font-size="6.3" text-anchor="end" font-weight="bold" fill="#000" stroke="#000" stroke-width="0.24" >4</text>
<line x1="23.40" y1="278.20" x2="25.20" y2="278.20" stroke="#000" stroke-width="1.0" />
<text x="22.60" y="280.40" font-size="6.3" text-anchor="end" font-weight="bold" fill="#000" stroke="#000" stroke-width="0.24" >0</text>
<circle cx="36.20" cy="203.50" r="1.85" fill="#000"/>
<circle cx="41.70" cy="203.00" r="1.85" fill="#000"/>
<circle cx="38.70" cy="228.20" r="1.85" fill="#000"/>
<circle cx="38.70" cy="235.70" r="1.85" fill="#000"/>
<line x1="30.00" y1="217.70" x2="48.00" y2="217.70" stroke="#000" stroke-width="1.25" />
<line x1="39.00" y1="208.70" x2="39.00" y2="225.90" stroke="#000" stroke-width="1.25" />
<line x1="34.50" y1="208.70" x2="43.50" y2="208.70" stroke="#000" stroke-width="1.25" />
<line x1="34.50" y1="225.90" x2="43.50" y2="225.90" stroke="#000" stroke-width="1.25" />
<rect x="57.40" y="275.40" width="3.6" height="3.6" fill="#000"/>
<rect x="61.80" y="275.40" width="3.6" height="3.6" fill="#000"/>
<rect x="66.20" y="275.40" width="3.6" height="3.6" fill="#000"/>
<rect x="71.00" y="275.20" width="3.6" height="3.6" fill="#000"/>
<line x1="58.00" y1="277.50" x2="74.00" y2="277.50" stroke="#000" stroke-width="1.25" />
<path d="M93.40,241.60 L95.40,245.40 L91.40,245.40 Z" fill="#000"/>
<path d="M93.40,254.00 L95.40,257.80 L91.40,257.80 Z" fill="#000"/>
<path d="M93.40,263.60 L95.40,267.40 L91.40,267.40 Z" fill="#000"/>
<path d="M93.40,268.80 L95.40,272.60 L91.40,272.60 Z" fill="#000"/>
<line x1="84.40" y1="258.80" x2="102.40" y2="258.80" stroke="#000" stroke-width="1.25" />
<line x1="93.40" y1="252.80" x2="93.40" y2="264.90" stroke="#000" stroke-width="1.25" />
<line x1="88.90" y1="252.80" x2="97.90" y2="252.80" stroke="#000" stroke-width="1.25" />
<line x1="88.90" y1="264.90" x2="97.90" y2="264.90" stroke="#000" stroke-width="1.25" />
<line x1="36.20" y1="198.80" x2="68.70" y2="198.80" stroke="#000" stroke-width="1.25" />
<text x="52.45" y="200.60" font-size="10" text-anchor="middle" font-weight="bold" fill="#000" stroke="#000" stroke-width="0.30" >**</text>
<line x1="62.00" y1="237.60" x2="95.00" y2="237.60" stroke="#000" stroke-width="1.25" />
<text x="78.50" y="239.40" font-size="10" text-anchor="middle" font-weight="bold" fill="#000" stroke="#000" stroke-width="0.30" >*</text>
<text x="0.00" y="0.00" font-size="5.7" text-anchor="middle" font-weight="bold" fill="#000" stroke="#000" stroke-width="0.24" transform="translate(12.8,231.5) rotate(-90)">Radiance (px10<tspan font-size="4.3" dy="-2">6</tspan><tspan dy="2">/s/cm/sr)</tspan></text>
<text x="38.90" y="287.20" font-size="6.9" text-anchor="middle" font-weight="bold" fill="#000" stroke="#000" stroke-width="0.24" >No</text>
<text x="67.00" y="287.20" font-size="6.9" text-anchor="middle" font-weight="bold" fill="#000" stroke="#000" stroke-width="0.24" >SAP+</text>
<text x="95.30" y="287.20" font-size="6.9" text-anchor="middle" font-weight="bold" fill="#000" stroke="#000" stroke-width="0.24" >SAP−</text>
<text x="159.60" y="183.90" font-size="10" text-anchor="middle" font-weight="bold" fill="#000" stroke="#000" stroke-width="0.30" >Liver</text>
<line x1="125.00" y1="196.50" x2="125.00" y2="278.90" stroke="#000" stroke-width="1.25" />
<line x1="124.50" y1="278.40" x2="206.60" y2="278.40" stroke="#000" stroke-width="1.25" />
<line x1="123.20" y1="196.50" x2="125.00" y2="196.50" stroke="#000" stroke-width="1.0" />
<text x="122.40" y="198.70" font-size="6.3" text-anchor="end" font-weight="bold" fill="#000" stroke="#000" stroke-width="0.24" >4.5</text>
<line x1="123.20" y1="224.00" x2="125.00" y2="224.00" stroke="#000" stroke-width="1.0" />
<text x="122.40" y="226.20" font-size="6.3" text-anchor="end" font-weight="bold" fill="#000" stroke="#000" stroke-width="0.24" >3.0</text>
<line x1="123.20" y1="251.30" x2="125.00" y2="251.30" stroke="#000" stroke-width="1.0" />
<text x="122.40" y="253.50" font-size="6.3" text-anchor="end" font-weight="bold" fill="#000" stroke="#000" stroke-width="0.24" >1.5</text>
<line x1="123.20" y1="278.20" x2="125.00" y2="278.20" stroke="#000" stroke-width="1.0" />
<text x="122.40" y="280.40" font-size="6.3" text-anchor="end" font-weight="bold" fill="#000" stroke="#000" stroke-width="0.24" >0</text>
<circle cx="138.30" cy="199.00" r="1.85" fill="#000"/>
<circle cx="138.70" cy="208.30" r="1.85" fill="#000"/>
<circle cx="136.50" cy="233.40" r="1.85" fill="#000"/>
<circle cx="141.40" cy="232.70" r="1.85" fill="#000"/>
<line x1="129.70" y1="218.40" x2="147.70" y2="218.40" stroke="#000" stroke-width="1.25" />
<line x1="138.70" y1="209.50" x2="138.70" y2="227.10" stroke="#000" stroke-width="1.25" />
<line x1="134.20" y1="209.50" x2="143.20" y2="209.50" stroke="#000" stroke-width="1.25" />
<line x1="134.20" y1="227.10" x2="143.20" y2="227.10" stroke="#000" stroke-width="1.25" />
<rect x="161.70" y="269.50" width="3.6" height="3.6" fill="#000"/>
<rect x="166.40" y="271.30" width="3.6" height="3.6" fill="#000"/>
<rect x="161.70" y="275.40" width="3.6" height="3.6" fill="#000"/>
<rect x="167.00" y="275.20" width="3.6" height="3.6" fill="#000"/>
<line x1="157.00" y1="275.40" x2="174.60" y2="275.40" stroke="#000" stroke-width="1.25" />
<path d="M193.40,244.70 L195.40,248.50 L191.40,248.50 Z" fill="#000"/>
<path d="M190.40,255.90 L192.40,259.70 L188.40,259.70 Z" fill="#000"/>
<path d="M196.00,261.10 L198.00,264.90 L194.00,264.90 Z" fill="#000"/>
<path d="M193.40,269.30 L195.40,273.10 L191.40,273.10 Z" fill="#000"/>
<line x1="184.30" y1="259.40" x2="202.30" y2="259.40" stroke="#000" stroke-width="1.25" />
<line x1="193.30" y1="254.30" x2="193.30" y2="264.90" stroke="#000" stroke-width="1.25" />
<line x1="188.80" y1="254.30" x2="197.80" y2="254.30" stroke="#000" stroke-width="1.25" />
<line x1="188.80" y1="264.90" x2="197.80" y2="264.90" stroke="#000" stroke-width="1.25" />
<line x1="136.20" y1="196.70" x2="169.10" y2="196.70" stroke="#000" stroke-width="1.25" />
<text x="152.65" y="198.50" font-size="10" text-anchor="middle" font-weight="bold" fill="#000" stroke="#000" stroke-width="0.30" >**</text>
<line x1="162.20" y1="242.40" x2="194.00" y2="242.40" stroke="#000" stroke-width="1.25" />
<text x="178.10" y="244.20" font-size="10" text-anchor="middle" font-weight="bold" fill="#000" stroke="#000" stroke-width="0.30" >*</text>
<text x="138.60" y="287.20" font-size="6.9" text-anchor="middle" font-weight="bold" fill="#000" stroke="#000" stroke-width="0.24" >No</text>
<text x="166.70" y="287.20" font-size="6.9" text-anchor="middle" font-weight="bold" fill="#000" stroke="#000" stroke-width="0.24" >SAP+</text>
<text x="195.00" y="287.20" font-size="6.9" text-anchor="middle" font-weight="bold" fill="#000" stroke="#000" stroke-width="0.24" >SAP−</text>
<text x="269.00" y="184.20" font-size="10.1" text-anchor="middle" font-weight="bold" fill="#000" stroke="#000" stroke-width="0.30" >Spleen</text>
<line x1="240.20" y1="196.80" x2="240.20" y2="279.10" stroke="#000" stroke-width="1.25" />
<line x1="239.70" y1="278.60" x2="321.80" y2="278.60" stroke="#000" stroke-width="1.25" />
<line x1="238.40" y1="196.80" x2="240.20" y2="196.80" stroke="#000" stroke-width="1.0" />
<text x="237.60" y="199.00" font-size="6.3" text-anchor="end" font-weight="bold" fill="#000" stroke="#000" stroke-width="0.24" >0.4</text>
<line x1="238.40" y1="217.00" x2="240.20" y2="217.00" stroke="#000" stroke-width="1.0" />
<text x="237.60" y="219.20" font-size="6.3" text-anchor="end" font-weight="bold" fill="#000" stroke="#000" stroke-width="0.24" >0.3</text>
<line x1="238.40" y1="237.30" x2="240.20" y2="237.30" stroke="#000" stroke-width="1.0" />
<text x="237.60" y="239.50" font-size="6.3" text-anchor="end" font-weight="bold" fill="#000" stroke="#000" stroke-width="0.24" >0.2</text>
<line x1="238.40" y1="257.50" x2="240.20" y2="257.50" stroke="#000" stroke-width="1.0" />
<text x="237.60" y="259.70" font-size="6.3" text-anchor="end" font-weight="bold" fill="#000" stroke="#000" stroke-width="0.24" >0.1</text>
<line x1="238.40" y1="278.20" x2="240.20" y2="278.20" stroke="#000" stroke-width="1.0" />
<text x="237.60" y="280.40" font-size="6.3" text-anchor="end" font-weight="bold" fill="#000" stroke="#000" stroke-width="0.24" >0</text>
<circle cx="254.00" cy="211.40" r="1.85" fill="#000"/>
<circle cx="254.00" cy="236.00" r="1.85" fill="#000"/>
<circle cx="251.60" cy="243.00" r="1.85" fill="#000"/>
<circle cx="257.00" cy="242.00" r="1.85" fill="#000"/>
<line x1="245.00" y1="233.00" x2="263.00" y2="233.00" stroke="#000" stroke-width="1.25" />
<line x1="254.00" y1="226.00" x2="254.00" y2="240.60" stroke="#000" stroke-width="1.25" />
<line x1="249.50" y1="226.00" x2="258.50" y2="226.00" stroke="#000" stroke-width="1.25" />
<line x1="249.50" y1="240.60" x2="258.50" y2="240.60" stroke="#000" stroke-width="1.25" />
<rect x="279.20" y="256.20" width="3.6" height="3.6" fill="#000"/>
<rect x="274.20" y="267.60" width="3.6" height="3.6" fill="#000"/>
<rect x="279.20" y="269.60" width="3.6" height="3.6" fill="#000"/>
<rect x="284.60" y="269.20" width="3.6" height="3.6" fill="#000"/>
<line x1="272.20" y1="267.00" x2="290.20" y2="267.00" stroke="#000" stroke-width="1.25" />
<line x1="281.20" y1="264.00" x2="281.20" y2="269.60" stroke="#000" stroke-width="1.25" />
<line x1="276.70" y1="264.00" x2="285.70" y2="264.00" stroke="#000" stroke-width="1.25" />
<line x1="276.70" y1="269.60" x2="285.70" y2="269.60" stroke="#000" stroke-width="1.25" />
<path d="M309.00,242.20 L311.00,246.00 L307.00,246.00 Z" fill="#000"/>
<path d="M313.00,251.20 L315.00,255.00 L311.00,255.00 Z" fill="#000"/>
<path d="M305.80,256.60 L307.80,260.40 L303.80,260.40 Z" fill="#000"/>
<path d="M309.00,248.50 L311.00,252.30 L307.00,252.30 Z" fill="#000"/>
<line x1="300.00" y1="251.40" x2="318.00" y2="251.40" stroke="#000" stroke-width="1.25" />
<line x1="309.00" y1="248.60" x2="309.00" y2="254.40" stroke="#000" stroke-width="1.25" />
<line x1="304.50" y1="248.60" x2="313.50" y2="248.60" stroke="#000" stroke-width="1.25" />
<line x1="304.50" y1="254.40" x2="313.50" y2="254.40" stroke="#000" stroke-width="1.25" />
<line x1="251.00" y1="206.60" x2="283.60" y2="206.60" stroke="#000" stroke-width="1.25" />
<text x="267.30" y="208.40" font-size="10" text-anchor="middle" font-weight="bold" fill="#000" stroke="#000" stroke-width="0.30" >*</text>
<line x1="276.60" y1="239.00" x2="309.60" y2="239.00" stroke="#000" stroke-width="1.25" />
<text x="293.10" y="240.80" font-size="10" text-anchor="middle" font-weight="bold" fill="#000" stroke="#000" stroke-width="0.30" >*</text>
<text x="0.00" y="0.00" font-size="6" text-anchor="middle" font-weight="bold" fill="#000" stroke="#000" stroke-width="0.24" transform="translate(225,232.9) rotate(-90)">Weight (g)</text>
<text x="253.90" y="287.20" font-size="6.9" text-anchor="middle" font-weight="bold" fill="#000" stroke="#000" stroke-width="0.24" >No</text>
<text x="282.00" y="287.20" font-size="6.9" text-anchor="middle" font-weight="bold" fill="#000" stroke="#000" stroke-width="0.24" >SAP+</text>
<text x="310.30" y="287.20" font-size="6.9" text-anchor="middle" font-weight="bold" fill="#000" stroke="#000" stroke-width="0.24" >SAP−</text>
<text x="375.00" y="183.90" font-size="10" text-anchor="middle" font-weight="bold" fill="#000" stroke="#000" stroke-width="0.30" >Liver</text>
<line x1="341.80" y1="197.10" x2="341.80" y2="279.20" stroke="#000" stroke-width="1.25" />
<line x1="341.30" y1="278.70" x2="423.40" y2="278.70" stroke="#000" stroke-width="1.25" />
<line x1="340.00" y1="197.10" x2="341.80" y2="197.10" stroke="#000" stroke-width="1.0" />
<text x="339.20" y="199.30" font-size="6.3" text-anchor="end" font-weight="bold" fill="#000" stroke="#000" stroke-width="0.24" >2.0</text>
<line x1="340.00" y1="217.40" x2="341.80" y2="217.40" stroke="#000" stroke-width="1.0" />
<text x="339.20" y="219.60" font-size="6.3" text-anchor="end" font-weight="bold" fill="#000" stroke="#000" stroke-width="0.24" >1.5</text>
<line x1="340.00" y1="238.00" x2="341.80" y2="238.00" stroke="#000" stroke-width="1.0" />
<text x="339.20" y="240.20" font-size="6.3" text-anchor="end" font-weight="bold" fill="#000" stroke="#000" stroke-width="0.24" >1.0</text>
<line x1="340.00" y1="258.60" x2="341.80" y2="258.60" stroke="#000" stroke-width="1.0" />
<text x="339.20" y="260.80" font-size="6.3" text-anchor="end" font-weight="bold" fill="#000" stroke="#000" stroke-width="0.24" >0.5</text>
<line x1="340.00" y1="278.70" x2="341.80" y2="278.70" stroke="#000" stroke-width="1.0" />
<text x="339.20" y="280.90" font-size="6.3" text-anchor="end" font-weight="bold" fill="#000" stroke="#000" stroke-width="0.24" >0</text>
<circle cx="355.30" cy="214.40" r="1.85" fill="#000"/>
<circle cx="355.30" cy="226.60" r="1.85" fill="#000"/>
<circle cx="355.30" cy="239.40" r="1.85" fill="#000"/>
<line x1="346.30" y1="225.40" x2="364.30" y2="225.40" stroke="#000" stroke-width="1.25" />
<line x1="355.30" y1="220.60" x2="355.30" y2="230.60" stroke="#000" stroke-width="1.25" />
<line x1="350.80" y1="220.60" x2="359.80" y2="220.60" stroke="#000" stroke-width="1.25" />
<line x1="350.80" y1="230.60" x2="359.80" y2="230.60" stroke="#000" stroke-width="1.25" />
<rect x="376.20" y="229.80" width="3.6" height="3.6" fill="#000"/>
<rect x="380.20" y="229.20" width="3.6" height="3.6" fill="#000"/>
<rect x="381.20" y="234.20" width="3.6" height="3.6" fill="#000"/>
<rect x="385.80" y="232.80" width="3.6" height="3.6" fill="#000"/>
<line x1="373.60" y1="233.00" x2="391.60" y2="233.00" stroke="#000" stroke-width="1.25" />
<path d="M407.60,216.60 L409.60,220.40 L405.60,220.40 Z" fill="#000"/>
<path d="M412.40,218.00 L414.40,221.80 L410.40,221.80 Z" fill="#000"/>
<path d="M408.00,230.00 L410.00,233.80 L406.00,233.80 Z" fill="#000"/>
<path d="M413.00,226.00 L415.00,229.80 L411.00,229.80 Z" fill="#000"/>
<line x1="401.20" y1="224.60" x2="419.20" y2="224.60" stroke="#000" stroke-width="1.25" />
<line x1="410.20" y1="221.00" x2="410.20" y2="227.40" stroke="#000" stroke-width="1.25" />
<line x1="405.70" y1="221.00" x2="414.70" y2="221.00" stroke="#000" stroke-width="1.25" />
<line x1="405.70" y1="227.40" x2="414.70" y2="227.40" stroke="#000" stroke-width="1.25" />
<line x1="376.40" y1="213.60" x2="410.00" y2="213.60" stroke="#000" stroke-width="1.25" />
<text x="393.20" y="215.40" font-size="10" text-anchor="middle" font-weight="bold" fill="#000" stroke="#000" stroke-width="0.30" >*</text>
<text x="355.50" y="287.20" font-size="6.9" text-anchor="middle" font-weight="bold" fill="#000" stroke="#000" stroke-width="0.24" >No</text>
<text x="383.60" y="287.20" font-size="6.9" text-anchor="middle" font-weight="bold" fill="#000" stroke="#000" stroke-width="0.24" >SAP+</text>
<text x="411.90" y="287.20" font-size="6.9" text-anchor="middle" font-weight="bold" fill="#000" stroke="#000" stroke-width="0.24" >SAP−</text>
<line x1="26.20" y1="310.10" x2="26.20" y2="346.50" stroke="#000" stroke-width="1.25" />
<line x1="26.20" y1="349.00" x2="26.20" y2="392.40" stroke="#000" stroke-width="1.25" />
<line x1="25.70" y1="391.90" x2="107.80" y2="391.90" stroke="#000" stroke-width="1.25" />
<line x1="24.40" y1="310.10" x2="26.20" y2="310.10" stroke="#000" stroke-width="1.0" />
<text x="23.60" y="312.30" font-size="6.3" text-anchor="end" font-weight="bold" fill="#000" stroke="#000" stroke-width="0.24" >20</text>
<line x1="24.40" y1="327.30" x2="26.20" y2="327.30" stroke="#000" stroke-width="1.0" />
<text x="23.60" y="329.50" font-size="6.3" text-anchor="end" font-weight="bold" fill="#000" stroke="#000" stroke-width="0.24" >15</text>
<line x1="24.40" y1="345.00" x2="26.20" y2="345.00" stroke="#000" stroke-width="1.0" />
<text x="23.60" y="347.20" font-size="6.3" text-anchor="end" font-weight="bold" fill="#000" stroke="#000" stroke-width="0.24" >10</text>
<line x1="24.40" y1="350.20" x2="26.20" y2="350.20" stroke="#000" stroke-width="1.0" />
<text x="23.60" y="352.40" font-size="6.3" text-anchor="end" font-weight="bold" fill="#000" stroke="#000" stroke-width="0.24" >6</text>
<line x1="24.40" y1="363.70" x2="26.20" y2="363.70" stroke="#000" stroke-width="1.0" />
<text x="23.60" y="365.90" font-size="6.3" text-anchor="end" font-weight="bold" fill="#000" stroke="#000" stroke-width="0.24" >4</text>
<line x1="24.40" y1="378.20" x2="26.20" y2="378.20" stroke="#000" stroke-width="1.0" />
<text x="23.60" y="380.40" font-size="6.3" text-anchor="end" font-weight="bold" fill="#000" stroke="#000" stroke-width="0.24" >2</text>
<line x1="24.40" y1="391.40" x2="26.20" y2="391.40" stroke="#000" stroke-width="1.0" />
<text x="23.60" y="393.60" font-size="6.3" text-anchor="end" font-weight="bold" fill="#000" stroke="#000" stroke-width="0.24" >0</text>
<circle cx="37.70" cy="318.70" r="1.85" fill="#000"/>
<circle cx="42.80" cy="316.20" r="1.85" fill="#000"/>
<circle cx="40.20" cy="339.20" r="1.85" fill="#000"/>
<circle cx="40.20" cy="344.90" r="1.85" fill="#000"/>
<line x1="31.20" y1="329.90" x2="49.20" y2="329.90" stroke="#000" stroke-width="1.25" />
<line x1="40.20" y1="322.50" x2="40.20" y2="336.70" stroke="#000" stroke-width="1.25" />
<line x1="35.70" y1="322.50" x2="44.70" y2="322.50" stroke="#000" stroke-width="1.25" />
<line x1="35.70" y1="336.70" x2="44.70" y2="336.70" stroke="#000" stroke-width="1.25" />
<rect x="59.20" y="389.20" width="3.6" height="3.6" fill="#000"/>
<rect x="63.20" y="389.40" width="3.6" height="3.6" fill="#000"/>
<rect x="67.20" y="389.20" width="3.6" height="3.6" fill="#000"/>
<rect x="72.50" y="388.00" width="3.6" height="3.6" fill="#000"/>
<line x1="59.50" y1="391.00" x2="75.50" y2="391.00" stroke="#000" stroke-width="1.25" />
<path d="M94.80,349.70 L96.80,353.50 L92.80,353.50 Z" fill="#000"/>
<path d="M90.40,369.30 L92.40,373.10 L88.40,373.10 Z" fill="#000"/>
<path d="M94.80,371.40 L96.80,375.20 L92.80,375.20 Z" fill="#000"/>
<path d="M99.60,370.60 L101.60,374.40 L97.60,374.40 Z" fill="#000"/>
<line x1="85.80" y1="366.70" x2="103.80" y2="366.70" stroke="#000" stroke-width="1.25" />
<line x1="94.80" y1="361.70" x2="94.80" y2="372.50" stroke="#000" stroke-width="1.25" />
<line x1="90.30" y1="361.70" x2="99.30" y2="361.70" stroke="#000" stroke-width="1.25" />
<line x1="90.30" y1="372.50" x2="99.30" y2="372.50" stroke="#000" stroke-width="1.25" />
<line x1="38.00" y1="311.20" x2="70.10" y2="311.20" stroke="#000" stroke-width="1.25" />
<text x="54.05" y="313.00" font-size="10" text-anchor="middle" font-weight="bold" fill="#000" stroke="#000" stroke-width="0.30" >**</text>
<line x1="64.30" y1="346.90" x2="96.80" y2="346.90" stroke="#000" stroke-width="1.25" />
<text x="80.55" y="348.70" font-size="10" text-anchor="middle" font-weight="bold" fill="#000" stroke="#000" stroke-width="0.30" >**</text>
<text x="0.00" y="0.00" font-size="7" text-anchor="middle" font-weight="bold" fill="#000" stroke="#000" stroke-width="0.24" transform="translate(13.3,347.2) rotate(-90)">EL4 cells (10<tspan font-size="5" dy="-2.4">6</tspan><tspan dy="2.4">)</tspan></text>
<text x="39.90" y="400.60" font-size="6.9" text-anchor="middle" font-weight="bold" fill="#000" stroke="#000" stroke-width="0.24" >No</text>
<text x="68.00" y="400.60" font-size="6.9" text-anchor="middle" font-weight="bold" fill="#000" stroke="#000" stroke-width="0.24" >SAP+</text>
<text x="96.30" y="400.60" font-size="6.9" text-anchor="middle" font-weight="bold" fill="#000" stroke="#000" stroke-width="0.24" >SAP−</text>
<line x1="126.30" y1="310.30" x2="126.30" y2="392.70" stroke="#000" stroke-width="1.25" />
<line x1="125.80" y1="392.20" x2="207.90" y2="392.20" stroke="#000" stroke-width="1.25" />
<line x1="124.50" y1="310.30" x2="126.30" y2="310.30" stroke="#000" stroke-width="1.0" />
<text x="123.70" y="312.50" font-size="6.3" text-anchor="end" font-weight="bold" fill="#000" stroke="#000" stroke-width="0.24" >15</text>
<line x1="124.50" y1="337.30" x2="126.30" y2="337.30" stroke="#000" stroke-width="1.0" />
<text x="123.70" y="339.50" font-size="6.3" text-anchor="end" font-weight="bold" fill="#000" stroke="#000" stroke-width="0.24" >10</text>
<line x1="124.50" y1="365.00" x2="126.30" y2="365.00" stroke="#000" stroke-width="1.0" />
<text x="123.70" y="367.20" font-size="6.3" text-anchor="end" font-weight="bold" fill="#000" stroke="#000" stroke-width="0.24" >5</text>
<line x1="124.50" y1="391.80" x2="126.30" y2="391.80" stroke="#000" stroke-width="1.0" />
<text x="123.70" y="394.00" font-size="6.3" text-anchor="end" font-weight="bold" fill="#000" stroke="#000" stroke-width="0.24" >0</text>
<circle cx="140.00" cy="332.80" r="1.85" fill="#000"/>
<circle cx="140.00" cy="348.00" r="1.85" fill="#000"/>
<circle cx="138.80" cy="362.60" r="1.85" fill="#000"/>
<circle cx="143.00" cy="360.30" r="1.85" fill="#000"/>
<line x1="131.50" y1="351.00" x2="149.50" y2="351.00" stroke="#000" stroke-width="1.25" />
<line x1="140.50" y1="344.30" x2="140.50" y2="357.40" stroke="#000" stroke-width="1.25" />
<line x1="136.00" y1="344.30" x2="145.00" y2="344.30" stroke="#000" stroke-width="1.25" />
<line x1="136.00" y1="357.40" x2="145.00" y2="357.40" stroke="#000" stroke-width="1.25" />
<rect x="160.20" y="387.70" width="3.6" height="3.6" fill="#000"/>
<rect x="163.70" y="388.20" width="3.6" height="3.6" fill="#000"/>
<rect x="167.20" y="387.70" width="3.6" height="3.6" fill="#000"/>
<rect x="171.20" y="386.70" width="3.6" height="3.6" fill="#000"/>
<line x1="159.10" y1="389.50" x2="175.10" y2="389.50" stroke="#000" stroke-width="1.25" />
<path d="M194.00,358.30 L196.00,362.10 L192.00,362.10 Z" fill="#000"/>
<path d="M190.00,366.40 L192.00,370.20 L188.00,370.20 Z" fill="#000"/>
<path d="M194.00,377.00 L196.00,380.80 L192.00,380.80 Z" fill="#000"/>
<line x1="185.00" y1="368.90" x2="203.00" y2="368.90" stroke="#000" stroke-width="1.25" />
<line x1="194.00" y1="365.20" x2="194.00" y2="372.40" stroke="#000" stroke-width="1.25" />
<line x1="189.50" y1="365.20" x2="198.50" y2="365.20" stroke="#000" stroke-width="1.25" />
<line x1="189.50" y1="372.40" x2="198.50" y2="372.40" stroke="#000" stroke-width="1.25" />
<line x1="137.60" y1="327.80" x2="170.30" y2="327.80" stroke="#000" stroke-width="1.25" />
<text x="153.95" y="329.60" font-size="10" text-anchor="middle" font-weight="bold" fill="#000" stroke="#000" stroke-width="0.30" >**</text>
<line x1="161.40" y1="355.30" x2="194.00" y2="355.30" stroke="#000" stroke-width="1.25" />
<text x="177.70" y="357.10" font-size="10" text-anchor="middle" font-weight="bold" fill="#000" stroke="#000" stroke-width="0.30" >**</text>
<text x="140.00" y="400.60" font-size="6.9" text-anchor="middle" font-weight="bold" fill="#000" stroke="#000" stroke-width="0.24" >No</text>
<text x="168.10" y="400.60" font-size="6.9" text-anchor="middle" font-weight="bold" fill="#000" stroke="#000" stroke-width="0.24" >SAP+</text>
<text x="196.40" y="400.60" font-size="6.9" text-anchor="middle" font-weight="bold" fill="#000" stroke="#000" stroke-width="0.24" >SAP−</text>
<line x1="241.30" y1="311.00" x2="241.30" y2="392.90" stroke="#000" stroke-width="1.25" />
<line x1="240.80" y1="392.40" x2="322.90" y2="392.40" stroke="#000" stroke-width="1.25" />
<line x1="239.50" y1="311.00" x2="241.30" y2="311.00" stroke="#000" stroke-width="1.0" />
<text x="238.70" y="313.20" font-size="6.3" text-anchor="end" font-weight="bold" fill="#000" stroke="#000" stroke-width="0.24" >80</text>
<line x1="239.50" y1="331.30" x2="241.30" y2="331.30" stroke="#000" stroke-width="1.0" />
<text x="238.70" y="333.50" font-size="6.3" text-anchor="end" font-weight="bold" fill="#000" stroke="#000" stroke-width="0.24" >60</text>
<line x1="239.50" y1="351.60" x2="241.30" y2="351.60" stroke="#000" stroke-width="1.0" />
<text x="238.70" y="353.80" font-size="6.3" text-anchor="end" font-weight="bold" fill="#000" stroke="#000" stroke-width="0.24" >40</text>
<line x1="239.50" y1="371.80" x2="241.30" y2="371.80" stroke="#000" stroke-width="1.0" />
<text x="238.70" y="374.00" font-size="6.3" text-anchor="end" font-weight="bold" fill="#000" stroke="#000" stroke-width="0.24" >20</text>
<line x1="239.50" y1="392.20" x2="241.30" y2="392.20" stroke="#000" stroke-width="1.0" />
<text x="238.70" y="394.40" font-size="6.3" text-anchor="end" font-weight="bold" fill="#000" stroke="#000" stroke-width="0.24" >0</text>
<circle cx="252.10" cy="383.70" r="1.85" fill="#000"/>
<circle cx="257.40" cy="383.90" r="1.85" fill="#000"/>
<circle cx="252.10" cy="390.60" r="1.85" fill="#000"/>
<circle cx="257.40" cy="390.60" r="1.85" fill="#000"/>
<line x1="246.00" y1="387.70" x2="263.60" y2="387.70" stroke="#666" stroke-width="1.25" />
<rect x="277.80" y="327.20" width="3.6" height="3.6" fill="#000"/>
<rect x="283.20" y="330.80" width="3.6" height="3.6" fill="#000"/>
<rect x="277.80" y="368.80" width="3.6" height="3.6" fill="#000"/>
<rect x="283.20" y="367.20" width="3.6" height="3.6" fill="#000"/>
<line x1="273.50" y1="350.60" x2="291.50" y2="350.60" stroke="#000" stroke-width="1.25" />
<line x1="282.50" y1="339.00" x2="282.50" y2="361.40" stroke="#000" stroke-width="1.25" />
<line x1="278.00" y1="339.00" x2="287.00" y2="339.00" stroke="#000" stroke-width="1.25" />
<line x1="278.00" y1="361.40" x2="287.00" y2="361.40" stroke="#000" stroke-width="1.25" />
<path d="M307.00,354.00 L309.00,357.80 L305.00,357.80 Z" fill="#000"/>
<path d="M312.40,354.00 L314.40,357.80 L310.40,357.80 Z" fill="#000"/>
<path d="M309.00,361.00 L311.00,364.80 L307.00,364.80 Z" fill="#000"/>
<path d="M309.60,369.40 L311.60,373.20 L307.60,373.20 Z" fill="#000"/>
<line x1="300.00" y1="361.40" x2="318.00" y2="361.40" stroke="#000" stroke-width="1.25" />
<line x1="309.00" y1="357.50" x2="309.00" y2="365.00" stroke="#000" stroke-width="1.25" />
<line x1="304.50" y1="357.50" x2="313.50" y2="357.50" stroke="#000" stroke-width="1.25" />
<line x1="304.50" y1="365.00" x2="313.50" y2="365.00" stroke="#000" stroke-width="1.25" />
<line x1="247.00" y1="323.00" x2="279.60" y2="323.00" stroke="#000" stroke-width="1.25" />
<text x="263.30" y="324.80" font-size="10" text-anchor="middle" font-weight="bold" fill="#000" stroke="#000" stroke-width="0.30" >**</text>
<line x1="283.00" y1="328.60" x2="316.00" y2="328.60" stroke="#000" stroke-width="1.25" />
<text x="299.50" y="327.00" font-size="6.3" text-anchor="middle" font-weight="bold" fill="#000" stroke="#000" stroke-width="0.24" >ns</text>
<text x="0.00" y="0.00" font-size="6.7" text-anchor="middle" font-weight="bold" fill="#000" stroke="#000" stroke-width="0.24" transform="translate(228.4,346.5) rotate(-90)">NKT cells (10<tspan font-size="4.8" dy="-2.3">4</tspan><tspan dy="2.3">)</tspan></text>
<text x="254.50" y="400.60" font-size="6.9" text-anchor="middle" font-weight="bold" fill="#000" stroke="#000" stroke-width="0.24" >No</text>
<text x="282.60" y="400.60" font-size="6.9" text-anchor="middle" font-weight="bold" fill="#000" stroke="#000" stroke-width="0.24" >SAP+</text>
<text x="310.90" y="400.60" font-size="6.9" text-anchor="middle" font-weight="bold" fill="#000" stroke="#000" stroke-width="0.24" >SAP−</text>
<line x1="342.20" y1="310.50" x2="342.20" y2="393.10" stroke="#000" stroke-width="1.25" />
<line x1="341.70" y1="392.60" x2="423.80" y2="392.60" stroke="#000" stroke-width="1.25" />
<line x1="340.40" y1="310.50" x2="342.20" y2="310.50" stroke="#000" stroke-width="1.0" />
<text x="339.60" y="312.70" font-size="6.3" text-anchor="end" font-weight="bold" fill="#000" stroke="#000" stroke-width="0.24" >16</text>
<line x1="340.40" y1="331.20" x2="342.20" y2="331.20" stroke="#000" stroke-width="1.0" />
<text x="339.60" y="333.40" font-size="6.3" text-anchor="end" font-weight="bold" fill="#000" stroke="#000" stroke-width="0.24" >12</text>
<line x1="340.40" y1="351.70" x2="342.20" y2="351.70" stroke="#000" stroke-width="1.0" />
<text x="339.60" y="353.90" font-size="6.3" text-anchor="end" font-weight="bold" fill="#000" stroke="#000" stroke-width="0.24" >8</text>
<line x1="340.40" y1="372.20" x2="342.20" y2="372.20" stroke="#000" stroke-width="1.0" />
<text x="339.60" y="374.40" font-size="6.3" text-anchor="end" font-weight="bold" fill="#000" stroke="#000" stroke-width="0.24" >4</text>
<line x1="340.40" y1="392.40" x2="342.20" y2="392.40" stroke="#000" stroke-width="1.0" />
<text x="339.60" y="394.60" font-size="6.3" text-anchor="end" font-weight="bold" fill="#000" stroke="#000" stroke-width="0.24" >0</text>
<circle cx="349.00" cy="391.80" r="1.85" fill="#000"/>
<circle cx="354.00" cy="391.80" r="1.85" fill="#000"/>
<circle cx="359.00" cy="391.80" r="1.85" fill="#000"/>
<circle cx="363.50" cy="391.80" r="1.85" fill="#000"/>
<rect x="380.80" y="346.90" width="3.6" height="3.6" fill="#000"/>
<rect x="378.20" y="352.70" width="3.6" height="3.6" fill="#000"/>
<rect x="381.20" y="358.50" width="3.6" height="3.6" fill="#000"/>
<rect x="380.20" y="369.20" width="3.6" height="3.6" fill="#000"/>
<line x1="373.00" y1="358.80" x2="391.00" y2="358.80" stroke="#000" stroke-width="1.25" />
<line x1="382.00" y1="353.90" x2="382.00" y2="362.60" stroke="#000" stroke-width="1.25" />
<line x1="377.50" y1="353.90" x2="386.50" y2="353.90" stroke="#000" stroke-width="1.25" />
<line x1="377.50" y1="362.60" x2="386.50" y2="362.60" stroke="#000" stroke-width="1.25" />
<path d="M411.00,316.30 L413.00,320.10 L409.00,320.10 Z" fill="#000"/>
<path d="M411.00,333.70 L413.00,337.50 L409.00,337.50 Z" fill="#000"/>
<path d="M411.00,350.20 L413.00,354.00 L409.00,354.00 Z" fill="#000"/>
<path d="M411.00,371.30 L413.00,375.10 L409.00,375.10 Z" fill="#000"/>
<line x1="401.20" y1="344.40" x2="419.20" y2="344.40" stroke="#000" stroke-width="1.25" />
<line x1="410.20" y1="331.90" x2="410.20" y2="355.90" stroke="#000" stroke-width="1.25" />
<line x1="405.70" y1="331.90" x2="414.70" y2="331.90" stroke="#000" stroke-width="1.25" />
<line x1="405.70" y1="355.90" x2="414.70" y2="355.90" stroke="#000" stroke-width="1.25" />
<line x1="348.50" y1="343.70" x2="385.00" y2="343.70" stroke="#000" stroke-width="1.25" />
<text x="366.75" y="345.50" font-size="10" text-anchor="middle" font-weight="bold" fill="#000" stroke="#000" stroke-width="0.30" >**</text>
<line x1="379.30" y1="314.40" x2="411.50" y2="314.40" stroke="#000" stroke-width="1.25" />
<text x="395.40" y="312.80" font-size="6.3" text-anchor="middle" font-weight="bold" fill="#000" stroke="#000" stroke-width="0.24" >ns</text>
<text x="355.50" y="400.60" font-size="6.9" text-anchor="middle" font-weight="bold" fill="#000" stroke="#000" stroke-width="0.24" >No</text>
<text x="383.60" y="400.60" font-size="6.9" text-anchor="middle" font-weight="bold" fill="#000" stroke="#000" stroke-width="0.24" >SAP+</text>
<text x="411.90" y="400.60" font-size="6.9" text-anchor="middle" font-weight="bold" fill="#000" stroke="#000" stroke-width="0.24" >SAP−</text>
<text x="474.80" y="194.40" font-size="10" text-anchor="middle" font-weight="bold" fill="#000" stroke="#000" stroke-width="0.30" >Liver</text>
<defs>
<filter id="tex" x="0" y="0" width="100%" height="100%">
<feTurbulence type="fractalNoise" baseFrequency="0.6" numOctaves="2" seed="4" result="n"/>
<feColorMatrix in="n" type="matrix" values="0 0 0 0 1  0 0 0 0 1  0 0 0 0 1  0 0 0 -2.2 1.25" result="w"/>
<feComposite in="w" in2="SourceGraphic" operator="in"/>
</filter>
<filter id="tex2" x="0" y="0" width="100%" height="100%">
<feTurbulence type="fractalNoise" baseFrequency="0.55" numOctaves="2" seed="9" result="n"/>
<feColorMatrix in="n" type="matrix" values="0 0 0 0 0.35  0 0 0 0 0.05  0 0 0 0 0.25  0 0 0 -2.4 1.2" result="w"/>
<feComposite in="w" in2="SourceGraphic" operator="in"/>
</filter>
<filter id="sb" x="-10%" y="-10%" width="120%" height="120%"><feGaussianBlur stdDeviation="2.2"/></filter>
<filter id="sb2" x="-10%" y="-10%" width="120%" height="120%"><feGaussianBlur stdDeviation="0.5"/></filter>
<clipPath id="L1"><rect x="435" y="198" width="84" height="62.5"/></clipPath>
<clipPath id="L2"><rect x="435.3" y="264" width="83.7" height="62"/></clipPath>
<clipPath id="L3"><rect x="435.3" y="329.5" width="83.7" height="61.5"/></clipPath>
</defs>
<g clip-path="url(#L1)">
<rect x="435" y="198" width="84" height="62.5" fill="#d44a8a"/>
<g filter="url(#sb)">
<path d="M451,198 L468,198 L473,212 L479,226 L487,237 L500,239 L519,237 L519,256 L495,258 L480,261 L469,261 L463,248 L457,232 L453,215 Z" fill="#a474bc"/>
<path d="M455,206 L466,206 L470,218 L474,230 L468,236 L462,228 L457,215 Z" fill="#9870b8"/>
<path d="M478,198 L519,198 L519,232 L500,229 L486,214 Z" fill="#d8447e"/>
<path d="M435,205 L449,210 L456,235 L462,261 L435,261 Z" fill="#d4467f"/>
</g>
<rect x="435" y="198" width="84" height="62.5" fill="#fff" filter="url(#tex)" opacity="0.42"/>
<rect x="435" y="198" width="84" height="62.5" fill="#fff" filter="url(#tex2)" opacity="0.8"/>
<g filter="url(#sb2)" fill="#f8f0f4">
<path d="M453,206 C455,205 457,207 457,210 C458,213 459,217 457,220 C455,222 453,220 453,217 C452,214 452,209 453,206 Z"/>
<path d="M486,245 C492,243 500,244 508,246 C513,247 517,246 519,246 L519,250 C512,251 505,250 498,250 C492,251 488,252 486,250 Z"/>
<path d="M443,246 C445,244 449,244 452,246 C454,248 453,252 452,255 C452,258 453,260 452,261 L446,261 C445,258 444,256 443,253 C442,251 442,248 443,246 Z"/>
<ellipse cx="487" cy="218" rx="2.5" ry="1.3"/><ellipse cx="515" cy="220" rx="1.5" ry="2"/><ellipse cx="440" cy="243" rx="1.3" ry="1"/><ellipse cx="471" cy="236" rx="1" ry="1"/><ellipse cx="510" cy="255" rx="1.5" ry="1"/>
</g>
<ellipse cx="448" cy="252" rx="1.6" ry="1.8" fill="#c02040"/>
</g>
<line x1="452.00" y1="229.00" x2="461.14" y2="222.91" stroke="#111" stroke-width="1.4" />
<path d="M464.30,220.80 L459.97,221.16 L462.30,224.66 Z" fill="#111"/>
<line x1="464.30" y1="252.60" x2="473.30" y2="246.85" stroke="#111" stroke-width="1.4" />
<path d="M476.50,244.80 L472.17,245.08 L474.43,248.62 Z" fill="#111"/>
<text x="437.00" y="207.60" font-size="8.4" text-anchor="start" font-weight="bold" fill="#000" stroke="#000" stroke-width="0.25" >No NKT</text>
<g clip-path="url(#L2)">
<rect x="435.3" y="264" width="83.7" height="62" fill="#d84e96"/>
<g filter="url(#sb)">
<ellipse cx="462" cy="300" rx="18" ry="22" fill="#da64b0"/>
<ellipse cx="500" cy="285" rx="16" ry="14" fill="#d64890"/>
<ellipse cx="505" cy="318" rx="16" ry="8" fill="#d64a90"/>
</g>
<rect x="435.3" y="264" width="83.7" height="62" fill="#fff" filter="url(#tex)" opacity="0.42"/>
<rect x="435.3" y="264" width="83.7" height="62" fill="#fff" filter="url(#tex2)" opacity="0.8"/>
<g filter="url(#sb2)" fill="#f8f0f4">
<ellipse cx="481" cy="269" rx="1" ry="1.8"/>
<ellipse cx="504" cy="271" rx="1" ry="1"/>
<ellipse cx="489" cy="278" rx="1.3" ry="1"/>
<ellipse cx="499" cy="291" rx="2.5" ry="1.5"/>
<ellipse cx="446" cy="296" rx="1.2" ry="1"/>
<ellipse cx="461" cy="299" rx="1.2" ry="1"/>
<ellipse cx="479" cy="304" rx="1.2" ry="1"/>
<ellipse cx="484" cy="307" rx="2" ry="1.2"/>
<ellipse cx="517" cy="304" rx="1.3" ry="1.5"/>
<ellipse cx="468" cy="322" rx="1.3" ry="1"/>
<ellipse cx="502" cy="323" rx="1.2" ry="1"/>
<ellipse cx="443" cy="312" rx="1" ry="1"/>
<ellipse cx="470" cy="281" rx="1" ry="1"/>
</g>
</g>
<text x="438.30" y="274.30" font-size="8.4" text-anchor="start" font-weight="bold" fill="#000" stroke="#000" stroke-width="0.25" >SAP+</text>
<text x="438.30" y="283.80" font-size="8.4" text-anchor="start" font-weight="bold" fill="#000" stroke="#000" stroke-width="0.25" >NKT</text>
<g clip-path="url(#L3)">
<rect x="435.3" y="329.5" width="83.7" height="61.5" fill="#7e60b4"/>
<g filter="url(#sb)">
<path d="M435,329 L446,329 L444,345 L443,365 L444,392 L435,392 Z" fill="#c24c90"/>
<path d="M478,329 L519,329 L519,340 L500,346 L485,345 L478,338 Z" fill="#9a5ca8"/>
<path d="M494,392 L519,392 L519,376 L508,382 Z" fill="#c24a88"/>
<ellipse cx="462" cy="370" rx="16" ry="15" fill="#7462c4"/>
<ellipse cx="500" cy="368" rx="12" ry="10" fill="#6e56ac"/>
</g>
<rect x="435.3" y="329.5" width="83.7" height="61.5" fill="#fff" filter="url(#tex)" opacity="0.42"/>
<rect x="435.3" y="329.5" width="83.7" height="61.5" fill="#fff" filter="url(#tex2)" opacity="0.8"/>
<g filter="url(#sb2)" fill="#f8f2f6">
<path d="M472.5,329 L477.5,329 L479,337 L480.5,346 L479.5,347.5 L476,338 Z"/>
<path d="M485,356 C491,350 500,346 508,342 C513,340 516,339 519,338 L519,347 C513,349 506,352 499,356 C494,359 491,362 488,363 C485,362 484,359 485,356 Z"/>
<ellipse cx="479" cy="362" rx="1.2" ry="1.5"/><ellipse cx="460" cy="338" rx="1" ry="1"/>
</g>
</g>
<line x1="452.00" y1="366.00" x2="464.00" y2="366.00" stroke="#111" stroke-width="1.4" />
<path d="M467.80,366.00 L464.00,363.90 L464.00,368.10 Z" fill="#111"/>
<line x1="498.40" y1="379.00" x2="492.46" y2="373.80" stroke="#111" stroke-width="1.4" />
<path d="M489.60,371.30 L491.08,375.38 L493.84,372.22 Z" fill="#111"/>
<text x="438.30" y="339.50" font-size="8.4" text-anchor="start" font-weight="bold" fill="#000" stroke="#000" stroke-width="0.25" >SAP−</text>
<text x="438.30" y="349.60" font-size="8.4" text-anchor="start" font-weight="bold" fill="#000" stroke="#000" stroke-width="0.25" >NKT</text>
</svg></body></html>
